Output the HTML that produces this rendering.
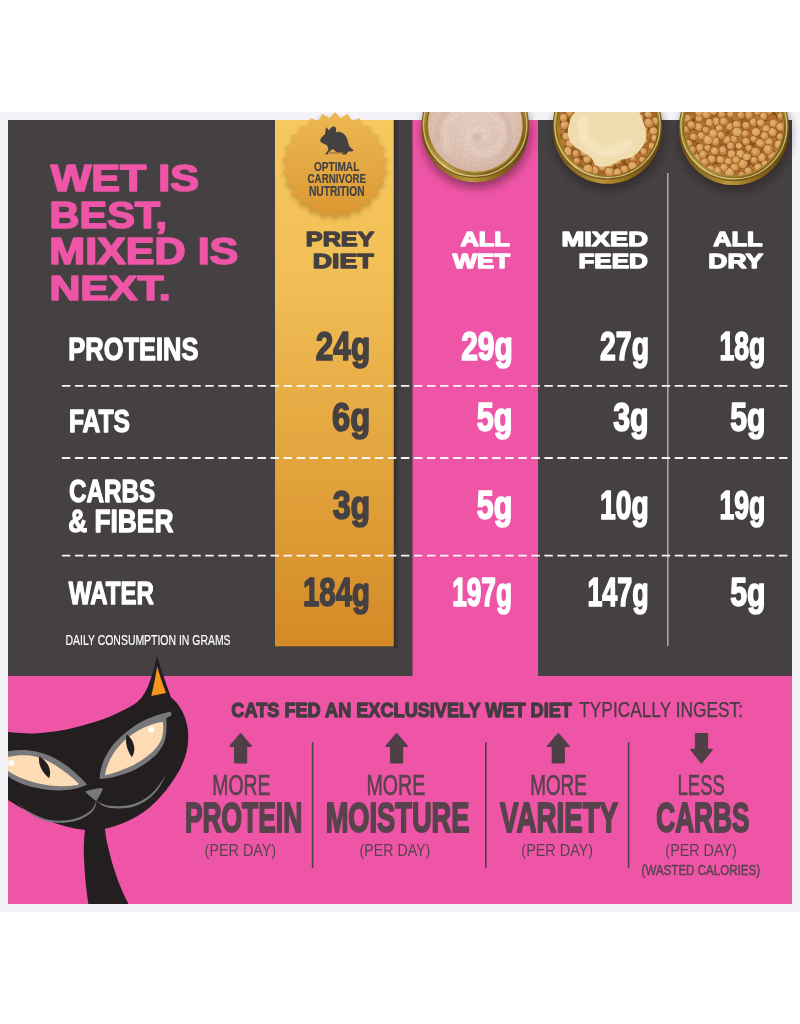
<!DOCTYPE html>
<html lang="en"><head><meta charset="utf-8"><title>Wet is best, mixed is next</title>
<style>
html,body{margin:0;padding:0;background:#fff;}
body{width:800px;height:1024px;overflow:hidden;font-family:"Liberation Sans",sans-serif;}
svg{display:block;position:absolute;left:0;top:0;}
svg text{font-family:"Liberation Sans",sans-serif;}
</style></head><body>
<svg width="800" height="1024" viewBox="0 0 800 1024">
<defs>
<linearGradient id="gcol" x1="0" y1="0" x2="0" y2="1">
<stop offset="0" stop-color="#f6c95f"/><stop offset="0.3" stop-color="#f1bf56"/><stop offset="0.55" stop-color="#e7ab44"/><stop offset="0.8" stop-color="#dc9934"/><stop offset="1" stop-color="#d38a27"/>
</linearGradient>
<linearGradient id="gsh" x1="0" y1="0" x2="1" y2="0"><stop offset="0" stop-color="#000" stop-opacity="0.3"/><stop offset="1" stop-color="#000" stop-opacity="0"/></linearGradient>
<linearGradient id="gbadge" x1="0" y1="0" x2="0" y2="1">
<stop offset="0" stop-color="#ecb752"/><stop offset="0.5" stop-color="#e4a843"/><stop offset="1" stop-color="#d9962f"/>
</linearGradient>
<linearGradient id="grim" x1="0" y1="0" x2="1" y2="1">
<stop offset="0" stop-color="#d2bb72"/><stop offset="0.3" stop-color="#94731f"/><stop offset="0.55" stop-color="#c0a250"/><stop offset="0.8" stop-color="#7e5e16"/><stop offset="1" stop-color="#a98a38"/>
</linearGradient>
<radialGradient id="gpate" cx="0.5" cy="0.45" r="0.6">
<stop offset="0" stop-color="#e6cdc0"/><stop offset="0.6" stop-color="#dec2b3"/><stop offset="1" stop-color="#cdaa99"/>
</radialGradient>
<filter id="sh" x="-30%" y="-30%" width="160%" height="160%"><feGaussianBlur stdDeviation="4"/></filter>
<filter id="sh2" x="-30%" y="-30%" width="160%" height="160%"><feGaussianBlur stdDeviation="2.5"/></filter>
<filter id="bl" x="-10%" y="-10%" width="120%" height="120%"><feGaussianBlur stdDeviation="0.6"/></filter>
<clipPath id="clipimg"><rect x="0" y="112" width="800" height="800"/></clipPath>
<clipPath id="c1"><circle cx="475.2" cy="124.5" r="47"/></clipPath>
<clipPath id="c2"><circle cx="607.6" cy="125.6" r="50.2"/></clipPath>
<clipPath id="c3"><circle cx="733.9" cy="126" r="49.2"/></clipPath>
<linearGradient id="gbody" x1="0" y1="0" x2="1" y2="0">
<stop offset="0" stop-color="#6e4f10"/><stop offset="0.45" stop-color="#b8943a"/><stop offset="0.7" stop-color="#8d6b1a"/><stop offset="1" stop-color="#5e420c"/>
</linearGradient>
<filter id="noise" x="0" y="0" width="100%" height="100%"><feTurbulence type="fractalNoise" baseFrequency="0.45" numOctaves="2" seed="4"/><feColorMatrix type="matrix" values="0 0 0 0 0.62  0 0 0 0 0.42  0 0 0 0 0.33  1.6 0 0 0 -0.62"/></filter>
<filter id="noise2" x="0" y="0" width="100%" height="100%"><feTurbulence type="fractalNoise" baseFrequency="0.5" numOctaves="2" seed="9"/><feColorMatrix type="matrix" values="0 0 0 0 0.98  0 0 0 0 0.93  0 0 0 0 0.88  0 1.6 0 0 -0.7"/></filter>
<filter id="bl2" x="-20%" y="-20%" width="140%" height="140%"><feGaussianBlur stdDeviation="1.6"/></filter>
</defs>

<rect x="0" y="0" width="800" height="1024" fill="#fff"/>
<rect x="0" y="112" width="800" height="800" fill="#f4f3f8"/>
<rect x="8" y="120" width="784" height="557" fill="#454142"/>
<rect x="8" y="676" width="784" height="228" fill="#ee55a7"/>
<rect x="412.5" y="120" width="125.5" height="560" fill="#ee55a7"/>
<rect x="393.7" y="120" width="6" height="528" fill="url(#gsh)"/>
<rect x="275" y="120" width="118.7" height="526.3" fill="url(#gcol)"/>
<rect x="667" y="173" width="1.6" height="473" fill="#a9a5a6"/>
<line x1="61.9" y1="385.8" x2="787.6" y2="385.8" stroke="#fff" stroke-width="1.8" stroke-dasharray="8.4 4.64" opacity="0.95"/>
<line x1="61.9" y1="458" x2="787.6" y2="458" stroke="#fff" stroke-width="1.8" stroke-dasharray="8.4 4.64" opacity="0.95"/>
<line x1="61.9" y1="555.6" x2="787.6" y2="555.6" stroke="#fff" stroke-width="1.8" stroke-dasharray="8.4 4.64" opacity="0.95"/>
<g clip-path="url(#clipimg)">
<polygon points="335.00,115.00 340.73,120.85 347.68,116.54 351.84,123.59 359.63,121.07 361.98,128.91 370.15,128.33 370.55,136.50 378.62,137.89 377.06,145.93 384.56,149.21 381.12,156.63 387.61,161.61 382.50,168.00 387.61,174.39 381.12,179.37 384.56,186.79 377.06,190.07 378.62,198.11 370.55,199.50 370.15,207.67 361.98,207.09 359.63,214.93 351.84,212.41 347.68,219.46 340.73,215.15 335.00,221.00 329.27,215.15 322.32,219.46 318.16,212.41 310.37,214.93 308.02,207.09 299.85,207.67 299.45,199.50 291.38,198.11 292.94,190.07 285.44,186.79 288.88,179.37 282.39,174.39 287.50,168.00 282.39,161.61 288.88,156.63 285.44,149.21 292.94,145.93 291.38,137.89 299.45,136.50 299.85,128.33 308.02,128.91 310.37,121.07 318.16,123.59 322.32,116.54 329.27,120.85" fill="#7a4a10" opacity="0.38" filter="url(#sh2)"/>
<polygon points="335.00,112.30 340.70,118.34 347.68,113.84 351.77,121.07 359.63,118.37 361.87,126.37 370.15,125.63 370.40,133.93 378.62,135.19 376.88,143.32 384.56,146.51 380.93,153.98 387.61,158.91 382.30,165.30 387.61,171.69 380.93,176.62 384.56,184.09 376.88,187.28 378.62,195.41 370.40,196.67 370.15,204.97 361.87,204.23 359.63,212.23 351.77,209.53 347.68,216.76 340.70,212.26 335.00,218.30 329.30,212.26 322.32,216.76 318.23,209.53 310.37,212.23 308.13,204.23 299.85,204.97 299.60,196.67 291.38,195.41 293.12,187.28 285.44,184.09 289.07,176.62 282.39,171.69 287.70,165.30 282.39,158.91 289.07,153.98 285.44,146.51 293.12,143.32 291.38,135.19 299.60,133.93 299.85,125.63 308.13,126.37 310.37,118.37 318.23,121.07 322.32,113.84 329.30,118.34" fill="url(#gbadge)"/>
<path fill="#454142" d="M320.1,140.3 C321,137.5 323.2,135.6 325,134.3 C325.6,131.5 325.6,129 326.1,127.3 C327.4,128 328.4,129.4 329.2,130.6 C329.8,128.6 331,127.2 332.6,126.7 C334.3,126.2 335.8,127 336.1,128.6 C336.3,130 336,131.2 335.7,132.3 C337.4,131.6 339.2,131.5 341,132.2 C343.6,133.2 345.6,135.2 346.8,138 C347.8,140.6 348.3,143 348.9,145 C349.6,147.2 351.6,148.6 353.5,150 L352.7,151.2 C351.3,151.4 349.8,151.3 348.3,151.5 C347.6,152.6 346.8,153.6 346,154.6 L342.2,154.6 C342.6,153.8 343,153.2 343.4,152.5 C340.8,152.5 338.2,152.3 335.9,151.8 C334.8,150.8 333.7,149.8 332.5,149 C331.2,150.2 330,151.2 328.8,152.3 L328.1,154.2 L325,154.2 C326,152.7 327.4,151.4 328.4,150 C328.2,148.5 327.6,147 327.3,145.5 C325.3,144.6 323.2,143.7 321.3,142.5 C320.7,141.8 320.2,141.1 320.1,140.3 Z"/>
<path d="M329.6,153 L343.4,152.9" stroke="#454142" stroke-width="0.7" fill="none"/>
<text x="313.89" y="170.70" font-size="13.66" font-weight="bold" fill="#454142" textLength="45.42" lengthAdjust="spacingAndGlyphs" stroke="#454142" stroke-width="0.2" stroke-linejoin="round">OPTIMAL</text>
<text x="307.58" y="183.30" font-size="13.66" font-weight="bold" fill="#454142" textLength="58.52" lengthAdjust="spacingAndGlyphs" stroke="#454142" stroke-width="0.2" stroke-linejoin="round">CARNIVORE</text>
<text x="308.94" y="195.90" font-size="13.81" font-weight="bold" fill="#454142" textLength="55.57" lengthAdjust="spacingAndGlyphs" stroke="#454142" stroke-width="0.2" stroke-linejoin="round">NUTRITION</text>
<ellipse cx="476.2" cy="133.5" rx="54.6" ry="54.6" fill="#1a0a10" opacity="0.42" filter="url(#sh)"/>
<circle cx="475.2" cy="128.7" r="53.6" fill="url(#gbody)"/>
<circle cx="475.2" cy="124.5" r="53.6" fill="#6e4e12"/>
<circle cx="475.2" cy="124.5" r="52.9" fill="url(#grim)"/>
<circle cx="475.2" cy="124.5" r="51.6" fill="none" stroke="#eadba2" stroke-width="1.1" opacity="0.75"/>
<circle cx="475.2" cy="124.5" r="48.6" fill="#7a5a16"/>
<circle cx="475.2" cy="125.1" r="47.9" fill="#b39440"/>
<g clip-path="url(#c1)"><circle cx="475.2" cy="124.5" r="51" fill="url(#gpate)"/><path d="M448,150 C436,128 452,106 478,108 C502,110 512,138 494,150 C478,160 462,146 470,134 C476,126 488,130 486,138" fill="none" stroke="#e8d6cb" stroke-width="8" stroke-linecap="round" opacity="0.42" filter="url(#bl2)"/><path d="M440,142 C432,122 448,100 478,100 C508,102 520,140 500,158" fill="none" stroke="#c9a796" stroke-width="4" opacity="0.55" filter="url(#bl2)"/><circle cx="477" cy="137" r="4" fill="#c9a796" opacity="0.6" filter="url(#bl2)"/><rect x="420" y="104" width="112" height="76" filter="url(#noise)" opacity="0.55"/><rect x="420" y="104" width="112" height="76" filter="url(#noise2)" opacity="0.4"/></g>
<ellipse cx="608.4" cy="134" rx="55.6" ry="55.6" fill="#1a0a10" opacity="0.42" filter="url(#sh)"/>
<circle cx="607.4" cy="129.2" r="54.6" fill="url(#gbody)"/>
<circle cx="607.4" cy="125" r="54.6" fill="#6e4e12"/>
<circle cx="607.4" cy="125" r="53.9" fill="url(#grim)"/>
<circle cx="607.4" cy="125" r="52.6" fill="none" stroke="#eadba2" stroke-width="1.1" opacity="0.75"/>
<circle cx="607.4" cy="125" r="50.9" fill="#7a5a16"/>
<circle cx="607.4" cy="125.6" r="50.199999999999996" fill="#b39440"/>
<g clip-path="url(#c2)"><circle cx="607.4" cy="125" r="51" fill="#a07c26"/></g><g clip-path="url(#c2)">
<circle cx="608.6" cy="126.4" r="48.8" fill="#86501e"/>
<ellipse cx="600.3" cy="143.0" rx="4.7" ry="4.3" transform="rotate(141 600.3 143.0)" fill="#a7672a"/>
<ellipse cx="640.0" cy="141.8" rx="3.9" ry="4.3" transform="rotate(9 640.0 141.8)" fill="#b06f2f"/>
<ellipse cx="639.2" cy="133.7" rx="3.7" ry="3.4" transform="rotate(113 639.2 133.7)" fill="#a7672a"/>
<ellipse cx="616.4" cy="111.5" rx="4.2" ry="4.4" transform="rotate(130 616.4 111.5)" fill="#a7672a"/>
<ellipse cx="582.0" cy="112.4" rx="5.0" ry="4.4" transform="rotate(93 582.0 112.4)" fill="#a7672a"/>
<ellipse cx="651.0" cy="139.2" rx="4.4" ry="4.4" transform="rotate(168 651.0 139.2)" fill="#a7672a"/>
<ellipse cx="618.7" cy="139.3" rx="3.7" ry="4.3" transform="rotate(119 618.7 139.3)" fill="#b97837"/>
<ellipse cx="575.3" cy="107.7" rx="3.8" ry="3.5" transform="rotate(36 575.3 107.7)" fill="#a7672a"/>
<ellipse cx="597.2" cy="122.9" rx="3.9" ry="3.6" transform="rotate(37 597.2 122.9)" fill="#b06f2f"/>
<ellipse cx="619.4" cy="164.3" rx="4.0" ry="3.7" transform="rotate(7 619.4 164.3)" fill="#a7672a"/>
<ellipse cx="594.3" cy="160.0" rx="3.8" ry="4.1" transform="rotate(99 594.3 160.0)" fill="#a7672a"/>
<ellipse cx="595.5" cy="166.9" rx="4.6" ry="4.5" transform="rotate(130 595.5 166.9)" fill="#b97837"/>
<ellipse cx="609.9" cy="162.6" rx="3.6" ry="3.7" transform="rotate(116 609.9 162.6)" fill="#b97837"/>
<ellipse cx="631.4" cy="147.3" rx="4.2" ry="4.0" transform="rotate(61 631.4 147.3)" fill="#b06f2f"/>
<ellipse cx="627.9" cy="153.7" rx="3.7" ry="4.2" transform="rotate(44 627.9 153.7)" fill="#b06f2f"/>
<ellipse cx="568.5" cy="106.6" rx="4.4" ry="3.8" transform="rotate(65 568.5 106.6)" fill="#b97837"/>
<ellipse cx="570.2" cy="132.7" rx="3.4" ry="4.1" transform="rotate(26 570.2 132.7)" fill="#a7672a"/>
<ellipse cx="651.9" cy="124.5" rx="3.6" ry="4.1" transform="rotate(46 651.9 124.5)" fill="#b97837"/>
<ellipse cx="579.2" cy="152.1" rx="4.0" ry="4.0" transform="rotate(83 579.2 152.1)" fill="#b06f2f"/>
<ellipse cx="589.6" cy="131.1" rx="3.4" ry="4.2" transform="rotate(132 589.6 131.1)" fill="#a7672a"/>
<ellipse cx="625.0" cy="143.7" rx="4.4" ry="3.8" transform="rotate(159 625.0 143.7)" fill="#b06f2f"/>
<ellipse cx="575.0" cy="137.5" rx="4.8" ry="4.3" transform="rotate(37 575.0 137.5)" fill="#a7672a"/>
<ellipse cx="603.1" cy="156.7" rx="4.4" ry="4.3" transform="rotate(65 603.1 156.7)" fill="#a7672a"/>
<ellipse cx="611.2" cy="149.3" rx="3.6" ry="4.0" transform="rotate(117 611.2 149.3)" fill="#b06f2f"/>
<ellipse cx="639.5" cy="127.2" rx="4.0" ry="3.9" transform="rotate(54 639.5 127.2)" fill="#b97837"/>
<ellipse cx="596.2" cy="135.5" rx="4.7" ry="4.1" transform="rotate(111 596.2 135.5)" fill="#a7672a"/>
<ellipse cx="620.1" cy="131.1" rx="3.6" ry="4.1" transform="rotate(42 620.1 131.1)" fill="#b06f2f"/>
<ellipse cx="609.3" cy="126.6" rx="4.0" ry="3.6" transform="rotate(63 609.3 126.6)" fill="#a7672a"/>
<ellipse cx="594.7" cy="114.3" rx="4.2" ry="3.8" transform="rotate(129 594.7 114.3)" fill="#b06f2f"/>
<ellipse cx="592.0" cy="150.0" rx="3.8" ry="4.1" transform="rotate(152 592.0 150.0)" fill="#b97837"/>
<ellipse cx="654.7" cy="133.1" rx="3.7" ry="3.7" transform="rotate(111 654.7 133.1)" fill="#b97837"/>
<ellipse cx="580.3" cy="123.2" rx="4.0" ry="3.7" transform="rotate(108 580.3 123.2)" fill="#b06f2f"/>
<ellipse cx="633.5" cy="130.8" rx="3.7" ry="4.0" transform="rotate(75 633.5 130.8)" fill="#b97837"/>
<ellipse cx="564.9" cy="141.5" rx="4.4" ry="4.1" transform="rotate(162 564.9 141.5)" fill="#b97837"/>
<ellipse cx="636.3" cy="118.3" rx="4.2" ry="3.9" transform="rotate(97 636.3 118.3)" fill="#b97837"/>
<ellipse cx="584.6" cy="144.8" rx="4.2" ry="4.9" transform="rotate(128 584.6 144.8)" fill="#b06f2f"/>
<ellipse cx="605.5" cy="106.9" rx="4.2" ry="3.4" transform="rotate(13 605.5 106.9)" fill="#b06f2f"/>
<ellipse cx="635.1" cy="163.4" rx="4.6" ry="4.4" transform="rotate(144 635.1 163.4)" fill="#b97837"/>
<ellipse cx="587.7" cy="155.0" rx="4.2" ry="3.8" transform="rotate(61 587.7 155.0)" fill="#b06f2f"/>
<ellipse cx="602.3" cy="149.0" rx="4.2" ry="4.2" transform="rotate(122 602.3 149.0)" fill="#b97837"/>
<ellipse cx="568.4" cy="148.3" rx="3.7" ry="4.5" transform="rotate(35 568.4 148.3)" fill="#b06f2f"/>
<ellipse cx="574.7" cy="119.5" rx="3.6" ry="3.6" transform="rotate(39 574.7 119.5)" fill="#a7672a"/>
<ellipse cx="635.7" cy="109.8" rx="4.6" ry="3.8" transform="rotate(170 635.7 109.8)" fill="#a7672a"/>
<ellipse cx="645.9" cy="112.0" rx="4.2" ry="4.3" transform="rotate(60 645.9 112.0)" fill="#b06f2f"/>
<ellipse cx="629.7" cy="136.7" rx="3.7" ry="3.5" transform="rotate(47 629.7 136.7)" fill="#b06f2f"/>
<ellipse cx="623.6" cy="115.1" rx="4.1" ry="3.8" transform="rotate(65 623.6 115.1)" fill="#b97837"/>
<ellipse cx="617.5" cy="172.2" rx="4.1" ry="4.2" transform="rotate(57 617.5 172.2)" fill="#a7672a"/>
<ellipse cx="561.2" cy="130.2" rx="4.4" ry="3.9" transform="rotate(173 561.2 130.2)" fill="#b97837"/>
<ellipse cx="617.6" cy="151.8" rx="3.9" ry="4.1" transform="rotate(69 617.6 151.8)" fill="#b97837"/>
<ellipse cx="602.6" cy="128.7" rx="4.3" ry="3.9" transform="rotate(69 602.6 128.7)" fill="#b97837"/>
<ellipse cx="650.2" cy="146.7" rx="3.8" ry="4.1" transform="rotate(104 650.2 146.7)" fill="#b97837"/>
<ellipse cx="630.8" cy="115.4" rx="3.9" ry="3.6" transform="rotate(115 630.8 115.4)" fill="#a7672a"/>
<ellipse cx="584.6" cy="162.8" rx="4.7" ry="4.0" transform="rotate(13 584.6 162.8)" fill="#b06f2f"/>
<ellipse cx="654.4" cy="115.2" rx="4.4" ry="3.8" transform="rotate(98 654.4 115.2)" fill="#a7672a"/>
<ellipse cx="610.2" cy="173.3" rx="3.9" ry="4.3" transform="rotate(104 610.2 173.3)" fill="#b97837"/>
<ellipse cx="607.3" cy="140.7" rx="3.8" ry="4.3" transform="rotate(136 607.3 140.7)" fill="#b06f2f"/>
<ellipse cx="627.0" cy="124.6" rx="4.5" ry="3.8" transform="rotate(47 627.0 124.6)" fill="#b06f2f"/>
<ellipse cx="602.4" cy="118.6" rx="4.8" ry="3.9" transform="rotate(56 602.4 118.6)" fill="#a7672a"/>
<ellipse cx="564.9" cy="125.2" rx="4.3" ry="4.8" transform="rotate(54 564.9 125.2)" fill="#b06f2f"/>
<ellipse cx="604.6" cy="167.0" rx="3.8" ry="4.3" transform="rotate(156 604.6 167.0)" fill="#b06f2f"/>
<ellipse cx="583.6" cy="134.4" rx="3.7" ry="4.1" transform="rotate(152 583.6 134.4)" fill="#b06f2f"/>
<ellipse cx="642.1" cy="157.9" rx="3.9" ry="4.7" transform="rotate(44 642.1 157.9)" fill="#b06f2f"/>
<ellipse cx="587.8" cy="125.0" rx="4.0" ry="3.8" transform="rotate(22 587.8 125.0)" fill="#a7672a"/>
<ellipse cx="570.0" cy="114.1" rx="3.7" ry="3.8" transform="rotate(50 570.0 114.1)" fill="#b06f2f"/>
<ellipse cx="613.5" cy="121.3" rx="4.1" ry="3.4" transform="rotate(47 613.5 121.3)" fill="#b06f2f"/>
<ellipse cx="573.9" cy="145.3" rx="3.4" ry="4.1" transform="rotate(129 573.9 145.3)" fill="#a7672a"/>
<ellipse cx="618.4" cy="105.6" rx="3.4" ry="3.7" transform="rotate(56 618.4 105.6)" fill="#b06f2f"/>
<ellipse cx="591.3" cy="140.1" rx="4.8" ry="4.0" transform="rotate(53 591.3 140.1)" fill="#b06f2f"/>
<ellipse cx="626.8" cy="168.9" rx="4.1" ry="4.2" transform="rotate(72 626.8 168.9)" fill="#a7672a"/>
<ellipse cx="646.8" cy="134.2" rx="4.3" ry="4.1" transform="rotate(140 646.8 134.2)" fill="#b97837"/>
<ellipse cx="576.7" cy="159.3" rx="3.8" ry="3.4" transform="rotate(83 576.7 159.3)" fill="#a7672a"/>
<ellipse cx="602.1" cy="172.7" rx="3.8" ry="4.5" transform="rotate(174 602.1 172.7)" fill="#a7672a"/>
<ellipse cx="641.5" cy="107.3" rx="4.5" ry="3.9" transform="rotate(49 641.5 107.3)" fill="#b97837"/>
<ellipse cx="637.7" cy="149.2" rx="4.2" ry="4.0" transform="rotate(132 637.7 149.2)" fill="#a7672a"/>
<ellipse cx="629.2" cy="160.5" rx="3.8" ry="3.6" transform="rotate(17 629.2 160.5)" fill="#b97837"/>
<ellipse cx="587.7" cy="106.2" rx="4.5" ry="4.6" transform="rotate(78 587.7 106.2)" fill="#a7672a"/>
<ellipse cx="608.2" cy="115.9" rx="4.5" ry="4.0" transform="rotate(144 608.2 115.9)" fill="#b06f2f"/>
<ellipse cx="645.0" cy="122.7" rx="4.4" ry="4.7" transform="rotate(169 645.0 122.7)" fill="#a7672a"/>
<ellipse cx="628.6" cy="107.7" rx="3.5" ry="4.0" transform="rotate(162 628.6 107.7)" fill="#b06f2f"/>
<ellipse cx="613.7" cy="132.7" rx="4.2" ry="3.4" transform="rotate(44 613.7 132.7)" fill="#b06f2f"/>
<ellipse cx="622.0" cy="157.2" rx="4.2" ry="4.1" transform="rotate(42 622.0 157.2)" fill="#a7672a"/>
<ellipse cx="573.0" cy="154.1" rx="4.0" ry="4.1" transform="rotate(79 573.0 154.1)" fill="#a7672a"/>
<ellipse cx="595.3" cy="106.6" rx="4.0" ry="4.2" transform="rotate(40 595.3 106.6)" fill="#b06f2f"/>
<ellipse cx="573.5" cy="126.8" rx="4.9" ry="4.8" transform="rotate(66 573.5 126.8)" fill="#b97837"/>
<ellipse cx="586.1" cy="117.2" rx="4.4" ry="3.5" transform="rotate(105 586.1 117.2)" fill="#b06f2f"/>
<ellipse cx="652.4" cy="108.3" rx="4.2" ry="3.9" transform="rotate(36 652.4 108.3)" fill="#a7672a"/>
<ellipse cx="646.4" cy="152.8" rx="4.3" ry="4.0" transform="rotate(161 646.4 152.8)" fill="#b97837"/>
<ellipse cx="619.9" cy="124.9" rx="4.7" ry="4.8" transform="rotate(91 619.9 124.9)" fill="#b97837"/>
<ellipse cx="562.2" cy="115.0" rx="3.9" ry="3.9" transform="rotate(93 562.2 115.0)" fill="#b06f2f"/>
<ellipse cx="589.0" cy="169.4" rx="4.8" ry="4.1" transform="rotate(150 589.0 169.4)" fill="#b06f2f"/>
<ellipse cx="616.3" cy="145.3" rx="4.5" ry="4.2" transform="rotate(67 616.3 145.3)" fill="#a7672a"/>
<ellipse cx="635.9" cy="155.9" rx="4.4" ry="3.6" transform="rotate(142 635.9 155.9)" fill="#b97837"/>
<ellipse cx="601.6" cy="111.8" rx="4.0" ry="4.3" transform="rotate(87 601.6 111.8)" fill="#b06f2f"/>
<ellipse cx="614.1" cy="157.7" rx="4.1" ry="4.7" transform="rotate(49 614.1 157.7)" fill="#b06f2f"/>
<ellipse cx="597.5" cy="153.2" rx="4.0" ry="4.9" transform="rotate(70 597.5 153.2)" fill="#a7672a"/>
<ellipse cx="579.2" cy="129.9" rx="3.9" ry="4.6" transform="rotate(42 579.2 129.9)" fill="#b06f2f"/>
<ellipse cx="603.0" cy="135.0" rx="4.6" ry="4.7" transform="rotate(100 603.0 135.0)" fill="#a7672a"/>
<ellipse cx="611.9" cy="106.1" rx="4.5" ry="4.8" transform="rotate(128 611.9 106.1)" fill="#b97837"/>
<ellipse cx="633.5" cy="124.3" rx="3.5" ry="4.0" transform="rotate(148 633.5 124.3)" fill="#b06f2f"/>
<ellipse cx="596.4" cy="129.2" rx="4.2" ry="4.1" transform="rotate(37 596.4 129.2)" fill="#a7672a"/>
<ellipse cx="633.8" cy="141.4" rx="3.7" ry="4.3" transform="rotate(163 633.8 141.4)" fill="#a7672a"/>
<ellipse cx="626.4" cy="131.3" rx="4.2" ry="3.7" transform="rotate(175 626.4 131.3)" fill="#a7672a"/>
<ellipse cx="581.3" cy="105.5" rx="4.2" ry="4.0" transform="rotate(114 581.3 105.5)" fill="#a7672a"/>
<ellipse cx="600.1" cy="162.5" rx="4.0" ry="3.9" transform="rotate(15 600.1 162.5)" fill="#b06f2f"/>
<ellipse cx="643.9" cy="146.7" rx="4.0" ry="4.3" transform="rotate(130 643.9 146.7)" fill="#b06f2f"/>
<ellipse cx="621.6" cy="138.9" rx="5.0" ry="4.9" transform="rotate(163 621.6 138.9)" fill="#d9a15c" stroke="#7a4414" stroke-width="0.9" stroke-opacity="0.55"/>
<circle cx="620.9" cy="138.1" r="2.7" fill="#e0b070" opacity="0.8"/>
<ellipse cx="589.3" cy="109.5" rx="4.7" ry="4.9" transform="rotate(9 589.3 109.5)" fill="#c78746" stroke="#7a4414" stroke-width="0.9" stroke-opacity="0.55"/>
<circle cx="588.6" cy="108.7" r="2.6" fill="#e0b070" opacity="0.8"/>
<ellipse cx="593.9" cy="124.7" rx="4.5" ry="4.4" transform="rotate(12 593.9 124.7)" fill="#cd904b" stroke="#7a4414" stroke-width="0.9" stroke-opacity="0.55"/>
<circle cx="593.2" cy="123.9" r="2.4" fill="#e0b070" opacity="0.8"/>
<ellipse cx="616.8" cy="160.4" rx="5.1" ry="4.1" transform="rotate(157 616.8 160.4)" fill="#d9a15c" stroke="#7a4414" stroke-width="0.9" stroke-opacity="0.55"/>
<circle cx="616.1" cy="159.6" r="2.8" fill="#e0b070" opacity="0.8"/>
<ellipse cx="620.1" cy="131.7" rx="4.9" ry="4.8" transform="rotate(147 620.1 131.7)" fill="#d0954f" stroke="#7a4414" stroke-width="0.9" stroke-opacity="0.55"/>
<circle cx="619.4" cy="130.9" r="2.7" fill="#e0b070" opacity="0.8"/>
<ellipse cx="642.5" cy="160.0" rx="3.6" ry="4.0" transform="rotate(122 642.5 160.0)" fill="#c48341" stroke="#7a4414" stroke-width="0.9" stroke-opacity="0.55"/>
<circle cx="641.8" cy="159.2" r="2.4" fill="#e0b070" opacity="0.8"/>
<ellipse cx="653.3" cy="131.0" rx="4.1" ry="4.2" transform="rotate(178 653.3 131.0)" fill="#d9a15c" stroke="#7a4414" stroke-width="0.9" stroke-opacity="0.55"/>
<circle cx="652.6" cy="130.2" r="2.5" fill="#e0b070" opacity="0.8"/>
<ellipse cx="566.1" cy="136.3" rx="4.2" ry="4.1" transform="rotate(43 566.1 136.3)" fill="#d0954f" stroke="#7a4414" stroke-width="0.9" stroke-opacity="0.55"/>
<circle cx="565.4" cy="135.5" r="2.7" fill="#e0b070" opacity="0.8"/>
<ellipse cx="643.1" cy="128.8" rx="4.8" ry="4.6" transform="rotate(28 643.1 128.8)" fill="#d9a15c" stroke="#7a4414" stroke-width="0.9" stroke-opacity="0.55"/>
<circle cx="642.4" cy="128.0" r="2.6" fill="#e0b070" opacity="0.8"/>
<ellipse cx="606.4" cy="157.0" rx="4.4" ry="4.2" transform="rotate(21 606.4 157.0)" fill="#d0954f" stroke="#7a4414" stroke-width="0.9" stroke-opacity="0.55"/>
<circle cx="605.7" cy="156.2" r="2.7" fill="#e0b070" opacity="0.8"/>
<ellipse cx="606.7" cy="123.4" rx="4.3" ry="4.7" transform="rotate(105 606.7 123.4)" fill="#d0954f" stroke="#7a4414" stroke-width="0.9" stroke-opacity="0.55"/>
<circle cx="606.0" cy="122.6" r="2.6" fill="#e0b070" opacity="0.8"/>
<ellipse cx="573.8" cy="118.7" rx="4.5" ry="4.4" transform="rotate(166 573.8 118.7)" fill="#d0954f" stroke="#7a4414" stroke-width="0.9" stroke-opacity="0.55"/>
<circle cx="573.1" cy="117.9" r="2.5" fill="#e0b070" opacity="0.8"/>
<ellipse cx="629.5" cy="121.4" rx="4.6" ry="4.6" transform="rotate(121 629.5 121.4)" fill="#c78746" stroke="#7a4414" stroke-width="0.9" stroke-opacity="0.55"/>
<circle cx="628.8" cy="120.6" r="2.7" fill="#e0b070" opacity="0.8"/>
<ellipse cx="623.9" cy="112.7" rx="5.3" ry="4.6" transform="rotate(77 623.9 112.7)" fill="#c48341" stroke="#7a4414" stroke-width="0.9" stroke-opacity="0.55"/>
<circle cx="623.2" cy="111.9" r="2.8" fill="#e0b070" opacity="0.8"/>
<ellipse cx="632.9" cy="138.2" rx="4.0" ry="4.5" transform="rotate(74 632.9 138.2)" fill="#d0954f" stroke="#7a4414" stroke-width="0.9" stroke-opacity="0.55"/>
<circle cx="632.2" cy="137.4" r="2.4" fill="#e0b070" opacity="0.8"/>
<ellipse cx="651.3" cy="107.2" rx="4.3" ry="4.2" transform="rotate(52 651.3 107.2)" fill="#d0954f" stroke="#7a4414" stroke-width="0.9" stroke-opacity="0.55"/>
<circle cx="650.6" cy="106.4" r="2.4" fill="#e0b070" opacity="0.8"/>
<ellipse cx="597.0" cy="159.0" rx="4.1" ry="4.5" transform="rotate(99 597.0 159.0)" fill="#c78746" stroke="#7a4414" stroke-width="0.9" stroke-opacity="0.55"/>
<circle cx="596.3" cy="158.2" r="2.6" fill="#e0b070" opacity="0.8"/>
<ellipse cx="624.4" cy="169.2" rx="3.9" ry="4.1" transform="rotate(67 624.4 169.2)" fill="#d49a54" stroke="#7a4414" stroke-width="0.9" stroke-opacity="0.55"/>
<circle cx="623.7" cy="168.4" r="2.4" fill="#e0b070" opacity="0.8"/>
<ellipse cx="569.7" cy="143.7" rx="3.9" ry="4.6" transform="rotate(13 569.7 143.7)" fill="#d49a54" stroke="#7a4414" stroke-width="0.9" stroke-opacity="0.55"/>
<circle cx="569.0" cy="142.9" r="2.6" fill="#e0b070" opacity="0.8"/>
<ellipse cx="611.4" cy="150.1" rx="3.9" ry="4.4" transform="rotate(99 611.4 150.1)" fill="#cd904b" stroke="#7a4414" stroke-width="0.9" stroke-opacity="0.55"/>
<circle cx="610.7" cy="149.3" r="2.4" fill="#e0b070" opacity="0.8"/>
<ellipse cx="565.5" cy="106.1" rx="3.9" ry="4.3" transform="rotate(144 565.5 106.1)" fill="#d49a54" stroke="#7a4414" stroke-width="0.9" stroke-opacity="0.55"/>
<circle cx="564.8" cy="105.3" r="2.3" fill="#e0b070" opacity="0.8"/>
<ellipse cx="640.4" cy="117.7" rx="3.9" ry="4.4" transform="rotate(16 640.4 117.7)" fill="#c48341" stroke="#7a4414" stroke-width="0.9" stroke-opacity="0.55"/>
<circle cx="639.7" cy="116.9" r="2.6" fill="#e0b070" opacity="0.8"/>
<ellipse cx="604.8" cy="140.7" rx="4.8" ry="4.1" transform="rotate(152 604.8 140.7)" fill="#d0954f" stroke="#7a4414" stroke-width="0.9" stroke-opacity="0.55"/>
<circle cx="604.1" cy="139.9" r="2.6" fill="#e0b070" opacity="0.8"/>
<ellipse cx="564.5" cy="124.9" rx="4.1" ry="4.7" transform="rotate(27 564.5 124.9)" fill="#cd904b" stroke="#7a4414" stroke-width="0.9" stroke-opacity="0.55"/>
<circle cx="563.8" cy="124.1" r="2.7" fill="#e0b070" opacity="0.8"/>
<ellipse cx="590.3" cy="147.4" rx="4.4" ry="3.9" transform="rotate(170 590.3 147.4)" fill="#d9a15c" stroke="#7a4414" stroke-width="0.9" stroke-opacity="0.55"/>
<circle cx="589.6" cy="146.6" r="2.5" fill="#e0b070" opacity="0.8"/>
<ellipse cx="632.8" cy="158.3" rx="4.0" ry="4.1" transform="rotate(65 632.8 158.3)" fill="#c48341" stroke="#7a4414" stroke-width="0.9" stroke-opacity="0.55"/>
<circle cx="632.1" cy="157.5" r="2.4" fill="#e0b070" opacity="0.8"/>
<ellipse cx="583.9" cy="134.6" rx="4.9" ry="4.2" transform="rotate(112 583.9 134.6)" fill="#c78746" stroke="#7a4414" stroke-width="0.9" stroke-opacity="0.55"/>
<circle cx="583.2" cy="133.8" r="2.8" fill="#e0b070" opacity="0.8"/>
<ellipse cx="577.1" cy="109.5" rx="4.0" ry="4.5" transform="rotate(56 577.1 109.5)" fill="#c78746" stroke="#7a4414" stroke-width="0.9" stroke-opacity="0.55"/>
<circle cx="576.4" cy="108.7" r="2.7" fill="#e0b070" opacity="0.8"/>
<ellipse cx="602.3" cy="167.4" rx="3.8" ry="4.6" transform="rotate(94 602.3 167.4)" fill="#d0954f" stroke="#7a4414" stroke-width="0.9" stroke-opacity="0.55"/>
<circle cx="601.6" cy="166.6" r="2.5" fill="#e0b070" opacity="0.8"/>
<ellipse cx="631.2" cy="113.3" rx="4.5" ry="4.8" transform="rotate(27 631.2 113.3)" fill="#d49a54" stroke="#7a4414" stroke-width="0.9" stroke-opacity="0.55"/>
<circle cx="630.5" cy="112.5" r="2.7" fill="#e0b070" opacity="0.8"/>
<ellipse cx="624.6" cy="145.7" rx="4.5" ry="3.7" transform="rotate(36 624.6 145.7)" fill="#d49a54" stroke="#7a4414" stroke-width="0.9" stroke-opacity="0.55"/>
<circle cx="623.9" cy="144.9" r="2.4" fill="#e0b070" opacity="0.8"/>
<ellipse cx="576.9" cy="160.9" rx="3.7" ry="3.9" transform="rotate(20 576.9 160.9)" fill="#c78746" stroke="#7a4414" stroke-width="0.9" stroke-opacity="0.55"/>
<circle cx="576.2" cy="160.1" r="2.4" fill="#e0b070" opacity="0.8"/>
<ellipse cx="648.3" cy="114.6" rx="4.4" ry="3.8" transform="rotate(41 648.3 114.6)" fill="#d0954f" stroke="#7a4414" stroke-width="0.9" stroke-opacity="0.55"/>
<circle cx="647.6" cy="113.8" r="2.4" fill="#e0b070" opacity="0.8"/>
<ellipse cx="628.6" cy="106.1" rx="5.3" ry="5.2" transform="rotate(161 628.6 106.1)" fill="#d9a15c" stroke="#7a4414" stroke-width="0.9" stroke-opacity="0.55"/>
<circle cx="627.9" cy="105.3" r="2.8" fill="#e0b070" opacity="0.8"/>
<ellipse cx="644.5" cy="140.9" rx="3.5" ry="3.8" transform="rotate(56 644.5 140.9)" fill="#cd904b" stroke="#7a4414" stroke-width="0.9" stroke-opacity="0.55"/>
<circle cx="643.8" cy="140.1" r="2.3" fill="#e0b070" opacity="0.8"/>
<ellipse cx="634.7" cy="148.6" rx="5.1" ry="4.9" transform="rotate(144 634.7 148.6)" fill="#d0954f" stroke="#7a4414" stroke-width="0.9" stroke-opacity="0.55"/>
<circle cx="634.0" cy="147.8" r="2.8" fill="#e0b070" opacity="0.8"/>
<ellipse cx="619.5" cy="106.1" rx="4.8" ry="4.6" transform="rotate(168 619.5 106.1)" fill="#cd904b" stroke="#7a4414" stroke-width="0.9" stroke-opacity="0.55"/>
<circle cx="618.8" cy="105.3" r="2.7" fill="#e0b070" opacity="0.8"/>
<ellipse cx="591.8" cy="116.9" rx="4.4" ry="3.7" transform="rotate(47 591.8 116.9)" fill="#d9a15c" stroke="#7a4414" stroke-width="0.9" stroke-opacity="0.55"/>
<circle cx="591.1" cy="116.1" r="2.5" fill="#e0b070" opacity="0.8"/>
<ellipse cx="581.8" cy="117.5" rx="3.6" ry="3.6" transform="rotate(54 581.8 117.5)" fill="#d9a15c" stroke="#7a4414" stroke-width="0.9" stroke-opacity="0.55"/>
<circle cx="581.1" cy="116.7" r="2.4" fill="#e0b070" opacity="0.8"/>
<ellipse cx="652.0" cy="146.3" rx="4.6" ry="4.0" transform="rotate(84 652.0 146.3)" fill="#c48341" stroke="#7a4414" stroke-width="0.9" stroke-opacity="0.55"/>
<circle cx="651.3" cy="145.5" r="2.6" fill="#e0b070" opacity="0.8"/>
<ellipse cx="597.4" cy="105.0" rx="4.8" ry="4.9" transform="rotate(20 597.4 105.0)" fill="#c78746" stroke="#7a4414" stroke-width="0.9" stroke-opacity="0.55"/>
<circle cx="596.7" cy="104.2" r="2.6" fill="#e0b070" opacity="0.8"/>
<ellipse cx="569.8" cy="112.6" rx="4.2" ry="4.6" transform="rotate(161 569.8 112.6)" fill="#c78746" stroke="#7a4414" stroke-width="0.9" stroke-opacity="0.55"/>
<circle cx="569.1" cy="111.8" r="2.6" fill="#e0b070" opacity="0.8"/>
<ellipse cx="634.9" cy="130.0" rx="4.4" ry="4.2" transform="rotate(160 634.9 130.0)" fill="#cd904b" stroke="#7a4414" stroke-width="0.9" stroke-opacity="0.55"/>
<circle cx="634.2" cy="129.2" r="2.8" fill="#e0b070" opacity="0.8"/>
<ellipse cx="601.6" cy="151.2" rx="4.0" ry="3.9" transform="rotate(51 601.6 151.2)" fill="#d9a15c" stroke="#7a4414" stroke-width="0.9" stroke-opacity="0.55"/>
<circle cx="600.9" cy="150.4" r="2.4" fill="#e0b070" opacity="0.8"/>
<ellipse cx="593.7" cy="135.5" rx="4.9" ry="4.3" transform="rotate(14 593.7 135.5)" fill="#d9a15c" stroke="#7a4414" stroke-width="0.9" stroke-opacity="0.55"/>
<circle cx="593.0" cy="134.7" r="2.7" fill="#e0b070" opacity="0.8"/>
<ellipse cx="576.0" cy="153.6" rx="4.3" ry="3.8" transform="rotate(93 576.0 153.6)" fill="#c48341" stroke="#7a4414" stroke-width="0.9" stroke-opacity="0.55"/>
<circle cx="575.3" cy="152.8" r="2.5" fill="#e0b070" opacity="0.8"/>
<ellipse cx="594.9" cy="170.2" rx="3.9" ry="4.5" transform="rotate(150 594.9 170.2)" fill="#d0954f" stroke="#7a4414" stroke-width="0.9" stroke-opacity="0.55"/>
<circle cx="594.2" cy="169.4" r="2.5" fill="#e0b070" opacity="0.8"/>
<ellipse cx="643.8" cy="151.6" rx="4.2" ry="3.8" transform="rotate(85 643.8 151.6)" fill="#c48341" stroke="#7a4414" stroke-width="0.9" stroke-opacity="0.55"/>
<circle cx="643.1" cy="150.8" r="2.5" fill="#e0b070" opacity="0.8"/>
<ellipse cx="614.0" cy="116.1" rx="5.1" ry="4.8" transform="rotate(164 614.0 116.1)" fill="#c78746" stroke="#7a4414" stroke-width="0.9" stroke-opacity="0.55"/>
<circle cx="613.3" cy="115.3" r="2.7" fill="#e0b070" opacity="0.8"/>
<ellipse cx="611.8" cy="109.1" rx="4.7" ry="4.8" transform="rotate(149 611.8 109.1)" fill="#cd904b" stroke="#7a4414" stroke-width="0.9" stroke-opacity="0.55"/>
<circle cx="611.1" cy="108.3" r="2.8" fill="#e0b070" opacity="0.8"/>
<ellipse cx="609.5" cy="171.7" rx="4.9" ry="5.3" transform="rotate(146 609.5 171.7)" fill="#d0954f" stroke="#7a4414" stroke-width="0.9" stroke-opacity="0.55"/>
<circle cx="608.8" cy="170.9" r="2.8" fill="#e0b070" opacity="0.8"/>
<ellipse cx="639.4" cy="108.7" rx="5.2" ry="5.2" transform="rotate(61 639.4 108.7)" fill="#d49a54" stroke="#7a4414" stroke-width="0.9" stroke-opacity="0.55"/>
<circle cx="638.7" cy="107.9" r="2.8" fill="#e0b070" opacity="0.8"/>
<ellipse cx="587.0" cy="159.1" rx="4.0" ry="3.9" transform="rotate(157 587.0 159.1)" fill="#d9a15c" stroke="#7a4414" stroke-width="0.9" stroke-opacity="0.55"/>
<circle cx="586.3" cy="158.3" r="2.4" fill="#e0b070" opacity="0.8"/>
<ellipse cx="626.2" cy="155.2" rx="4.9" ry="5.2" transform="rotate(108 626.2 155.2)" fill="#c48341" stroke="#7a4414" stroke-width="0.9" stroke-opacity="0.55"/>
<circle cx="625.5" cy="154.4" r="2.8" fill="#e0b070" opacity="0.8"/>
<ellipse cx="618.4" cy="122.6" rx="4.1" ry="4.3" transform="rotate(134 618.4 122.6)" fill="#d49a54" stroke="#7a4414" stroke-width="0.9" stroke-opacity="0.55"/>
<circle cx="617.7" cy="121.8" r="2.3" fill="#e0b070" opacity="0.8"/>
<ellipse cx="604.8" cy="111.3" rx="3.8" ry="4.1" transform="rotate(144 604.8 111.3)" fill="#c48341" stroke="#7a4414" stroke-width="0.9" stroke-opacity="0.55"/>
<circle cx="604.1" cy="110.5" r="2.5" fill="#e0b070" opacity="0.8"/>
<ellipse cx="584.4" cy="143.1" rx="4.9" ry="5.2" transform="rotate(52 584.4 143.1)" fill="#d9a15c" stroke="#7a4414" stroke-width="0.9" stroke-opacity="0.55"/>
<circle cx="583.7" cy="142.3" r="2.8" fill="#e0b070" opacity="0.8"/>
<ellipse cx="574.3" cy="129.2" rx="4.3" ry="4.2" transform="rotate(146 574.3 129.2)" fill="#d49a54" stroke="#7a4414" stroke-width="0.9" stroke-opacity="0.55"/>
<circle cx="573.6" cy="128.4" r="2.7" fill="#e0b070" opacity="0.8"/>
<ellipse cx="587.8" cy="169.2" rx="5.2" ry="5.1" transform="rotate(107 587.8 169.2)" fill="#d49a54" stroke="#7a4414" stroke-width="0.9" stroke-opacity="0.55"/>
<circle cx="587.1" cy="168.4" r="2.8" fill="#e0b070" opacity="0.8"/>
<ellipse cx="567.9" cy="151.2" rx="4.7" ry="4.0" transform="rotate(80 567.9 151.2)" fill="#d9a15c" stroke="#7a4414" stroke-width="0.9" stroke-opacity="0.55"/>
<circle cx="567.2" cy="150.4" r="2.5" fill="#e0b070" opacity="0.8"/>
<ellipse cx="582.4" cy="125.0" rx="4.7" ry="5.0" transform="rotate(70 582.4 125.0)" fill="#c48341" stroke="#7a4414" stroke-width="0.9" stroke-opacity="0.55"/>
<circle cx="581.7" cy="124.2" r="2.8" fill="#e0b070" opacity="0.8"/>
<ellipse cx="619.3" cy="152.8" rx="4.9" ry="4.0" transform="rotate(177 619.3 152.8)" fill="#c78746" stroke="#7a4414" stroke-width="0.9" stroke-opacity="0.55"/>
<circle cx="618.6" cy="152.0" r="2.7" fill="#e0b070" opacity="0.8"/>
<ellipse cx="577.5" cy="140.8" rx="4.5" ry="4.4" transform="rotate(32 577.5 140.8)" fill="#d9a15c" stroke="#7a4414" stroke-width="0.9" stroke-opacity="0.55"/>
<circle cx="576.8" cy="140.0" r="2.6" fill="#e0b070" opacity="0.8"/>
<ellipse cx="603.3" cy="131.3" rx="3.7" ry="4.1" transform="rotate(145 603.3 131.3)" fill="#d49a54" stroke="#7a4414" stroke-width="0.9" stroke-opacity="0.55"/>
<circle cx="602.6" cy="130.5" r="2.4" fill="#e0b070" opacity="0.8"/>
<ellipse cx="655.7" cy="121.0" rx="4.5" ry="4.8" transform="rotate(87 655.7 121.0)" fill="#c48341" stroke="#7a4414" stroke-width="0.9" stroke-opacity="0.55"/>
<circle cx="655.0" cy="120.2" r="2.7" fill="#e0b070" opacity="0.8"/>
<ellipse cx="648.6" cy="122.7" rx="5.0" ry="4.7" transform="rotate(65 648.6 122.7)" fill="#cd904b" stroke="#7a4414" stroke-width="0.9" stroke-opacity="0.55"/>
<circle cx="647.9" cy="121.9" r="2.6" fill="#e0b070" opacity="0.8"/>
<ellipse cx="627.6" cy="131.0" rx="4.3" ry="4.5" transform="rotate(49 627.6 131.0)" fill="#c78746" stroke="#7a4414" stroke-width="0.9" stroke-opacity="0.55"/>
<circle cx="626.9" cy="130.2" r="2.6" fill="#e0b070" opacity="0.8"/>
<ellipse cx="597.0" cy="144.4" rx="4.2" ry="4.7" transform="rotate(135 597.0 144.4)" fill="#d9a15c" stroke="#7a4414" stroke-width="0.9" stroke-opacity="0.55"/>
<circle cx="596.3" cy="143.6" r="2.7" fill="#e0b070" opacity="0.8"/>
<ellipse cx="612.3" cy="128.7" rx="3.6" ry="3.9" transform="rotate(144 612.3 128.7)" fill="#d0954f" stroke="#7a4414" stroke-width="0.9" stroke-opacity="0.55"/>
<circle cx="611.6" cy="127.9" r="2.4" fill="#e0b070" opacity="0.8"/>
<ellipse cx="615.6" cy="144.0" rx="4.5" ry="4.3" transform="rotate(151 615.6 144.0)" fill="#c78746" stroke="#7a4414" stroke-width="0.9" stroke-opacity="0.55"/>
<circle cx="614.9" cy="143.2" r="2.6" fill="#e0b070" opacity="0.8"/>
<ellipse cx="617.4" cy="172.5" rx="4.6" ry="4.3" transform="rotate(133 617.4 172.5)" fill="#d0954f" stroke="#7a4414" stroke-width="0.9" stroke-opacity="0.55"/>
<circle cx="616.7" cy="171.7" r="2.5" fill="#e0b070" opacity="0.8"/>
<ellipse cx="632.4" cy="165.9" rx="4.6" ry="4.3" transform="rotate(36 632.4 165.9)" fill="#d9a15c" stroke="#7a4414" stroke-width="0.9" stroke-opacity="0.55"/>
<circle cx="631.7" cy="165.1" r="2.7" fill="#e0b070" opacity="0.8"/>
<ellipse cx="610.8" cy="136.7" rx="4.0" ry="4.1" transform="rotate(133 610.8 136.7)" fill="#cd904b" stroke="#7a4414" stroke-width="0.9" stroke-opacity="0.55"/>
<circle cx="610.1" cy="135.9" r="2.3" fill="#e0b070" opacity="0.8"/>
<ellipse cx="563.5" cy="117.5" rx="4.4" ry="4.0" transform="rotate(112 563.5 117.5)" fill="#d49a54" stroke="#7a4414" stroke-width="0.9" stroke-opacity="0.55"/>
<circle cx="562.8" cy="116.7" r="2.4" fill="#e0b070" opacity="0.8"/>
<ellipse cx="583.5" cy="105.3" rx="4.2" ry="4.0" transform="rotate(42 583.5 105.3)" fill="#c48341" stroke="#7a4414" stroke-width="0.9" stroke-opacity="0.55"/>
<circle cx="582.8" cy="104.5" r="2.3" fill="#e0b070" opacity="0.8"/>
<ellipse cx="599.4" cy="118.0" rx="4.4" ry="4.2" transform="rotate(27 599.4 118.0)" fill="#d9a15c" stroke="#7a4414" stroke-width="0.9" stroke-opacity="0.55"/>
<circle cx="598.7" cy="117.2" r="2.3" fill="#e0b070" opacity="0.8"/>
<ellipse cx="654.6" cy="138.3" rx="3.6" ry="4.0" transform="rotate(18 654.6 138.3)" fill="#c78746" stroke="#7a4414" stroke-width="0.9" stroke-opacity="0.55"/>
<circle cx="653.9" cy="137.5" r="2.4" fill="#e0b070" opacity="0.8"/>
<ellipse cx="584.4" cy="152.2" rx="4.7" ry="4.3" transform="rotate(13 584.4 152.2)" fill="#d49a54" stroke="#7a4414" stroke-width="0.9" stroke-opacity="0.55"/>
<circle cx="583.7" cy="151.4" r="2.6" fill="#e0b070" opacity="0.8"/>
<ellipse cx="610.4" cy="163.7" rx="3.8" ry="4.2" transform="rotate(156 610.4 163.7)" fill="#cd904b" stroke="#7a4414" stroke-width="0.9" stroke-opacity="0.55"/>
<circle cx="609.7" cy="162.9" r="2.5" fill="#e0b070" opacity="0.8"/>
<ellipse cx="639.7" cy="135.4" rx="4.6" ry="4.8" transform="rotate(152 639.7 135.4)" fill="#d49a54" stroke="#7a4414" stroke-width="0.9" stroke-opacity="0.55"/>
<circle cx="639.0" cy="134.6" r="2.7" fill="#e0b070" opacity="0.8"/>
</g><g clip-path="url(#c2)"><path d="M577,110 C572,115 570,119 569.5,123 C568,127 567.5,131 568,135 C568.6,139 570.5,142.6 573.2,145.5 C576.5,148.6 581,150.6 584.5,153 C587.4,154.8 590,156.6 592,159 C593.4,161 594,163.4 595,165 C599.5,167.6 605.5,167 610,165.7 C613.6,164.4 616,162 619,160.5 C623,158.8 627.6,159 631,157.5 C634.6,155.6 637.6,153 640,150 C643,146.4 645.2,142.4 646,138 C646.6,134 646,130 644.5,126 C643.2,121 641,116 638.5,110 Z" fill="#f1dcb0"/><path d="M584,120 C580,130 584,142 594,148 C604,154 618,152 628,144" fill="none" stroke="#f8ebca" stroke-width="9" stroke-linecap="round" opacity="0.6" filter="url(#bl2)"/></g>
<ellipse cx="734.9" cy="135" rx="55.9" ry="55.9" fill="#1a0a10" opacity="0.42" filter="url(#sh)"/>
<circle cx="733.9" cy="130.2" r="54.9" fill="url(#gbody)"/>
<circle cx="733.9" cy="126" r="54.9" fill="#6e4e12"/>
<circle cx="733.9" cy="126" r="54.199999999999996" fill="url(#grim)"/>
<circle cx="733.9" cy="126" r="52.9" fill="none" stroke="#eadba2" stroke-width="1.1" opacity="0.75"/>
<circle cx="733.9" cy="126" r="50.800000000000004" fill="#7a5a16"/>
<circle cx="733.9" cy="126.6" r="50.1" fill="#b39440"/>
<g clip-path="url(#c3)">
<circle cx="733.9" cy="126" r="51" fill="#86501e"/>
<ellipse cx="711.1" cy="140.3" rx="3.4" ry="3.8" transform="rotate(27 711.1 140.3)" fill="#b97837"/>
<ellipse cx="697.3" cy="150.4" rx="4.3" ry="4.1" transform="rotate(10 697.3 150.4)" fill="#b06f2f"/>
<ellipse cx="739.0" cy="138.1" rx="4.2" ry="4.3" transform="rotate(145 739.0 138.1)" fill="#b97837"/>
<ellipse cx="703.2" cy="116.8" rx="4.8" ry="4.6" transform="rotate(94 703.2 116.8)" fill="#a7672a"/>
<ellipse cx="754.0" cy="160.9" rx="3.8" ry="4.3" transform="rotate(60 754.0 160.9)" fill="#b06f2f"/>
<ellipse cx="762.4" cy="128.4" rx="4.2" ry="4.4" transform="rotate(5 762.4 128.4)" fill="#b97837"/>
<ellipse cx="710.8" cy="151.5" rx="4.2" ry="3.9" transform="rotate(157 710.8 151.5)" fill="#b97837"/>
<ellipse cx="746.3" cy="142.0" rx="4.2" ry="4.0" transform="rotate(180 746.3 142.0)" fill="#b06f2f"/>
<ellipse cx="772.1" cy="118.6" rx="4.2" ry="4.2" transform="rotate(30 772.1 118.6)" fill="#b06f2f"/>
<ellipse cx="743.7" cy="127.6" rx="3.9" ry="4.4" transform="rotate(30 743.7 127.6)" fill="#a7672a"/>
<ellipse cx="774.8" cy="126.7" rx="4.4" ry="4.6" transform="rotate(157 774.8 126.7)" fill="#b06f2f"/>
<ellipse cx="765.7" cy="116.2" rx="4.1" ry="3.8" transform="rotate(52 765.7 116.2)" fill="#a7672a"/>
<ellipse cx="725.4" cy="148.3" rx="3.7" ry="3.8" transform="rotate(122 725.4 148.3)" fill="#a7672a"/>
<ellipse cx="723.7" cy="156.5" rx="4.0" ry="4.1" transform="rotate(3 723.7 156.5)" fill="#a7672a"/>
<ellipse cx="729.0" cy="138.2" rx="4.3" ry="4.6" transform="rotate(4 729.0 138.2)" fill="#b06f2f"/>
<ellipse cx="713.7" cy="116.7" rx="4.4" ry="4.2" transform="rotate(154 713.7 116.7)" fill="#a7672a"/>
<ellipse cx="761.2" cy="111.6" rx="4.2" ry="4.5" transform="rotate(24 761.2 111.6)" fill="#b97837"/>
<ellipse cx="764.7" cy="140.6" rx="4.2" ry="3.9" transform="rotate(82 764.7 140.6)" fill="#b97837"/>
<ellipse cx="738.8" cy="174.0" rx="3.9" ry="4.5" transform="rotate(174 738.8 174.0)" fill="#b06f2f"/>
<ellipse cx="731.9" cy="153.1" rx="3.9" ry="4.2" transform="rotate(141 731.9 153.1)" fill="#b06f2f"/>
<ellipse cx="733.0" cy="130.7" rx="3.6" ry="4.1" transform="rotate(41 733.0 130.7)" fill="#b06f2f"/>
<ellipse cx="723.7" cy="172.3" rx="4.4" ry="4.4" transform="rotate(12 723.7 172.3)" fill="#b97837"/>
<ellipse cx="762.1" cy="161.6" rx="4.1" ry="4.7" transform="rotate(51 762.1 161.6)" fill="#a7672a"/>
<ellipse cx="722.4" cy="134.0" rx="4.2" ry="3.7" transform="rotate(82 722.4 134.0)" fill="#b97837"/>
<ellipse cx="733.9" cy="143.8" rx="4.2" ry="4.8" transform="rotate(24 733.9 143.8)" fill="#b97837"/>
<ellipse cx="717.7" cy="159.1" rx="3.8" ry="3.7" transform="rotate(32 717.7 159.1)" fill="#b06f2f"/>
<ellipse cx="752.9" cy="153.7" rx="4.4" ry="4.2" transform="rotate(179 752.9 153.7)" fill="#b06f2f"/>
<ellipse cx="708.4" cy="112.8" rx="4.6" ry="4.1" transform="rotate(38 708.4 112.8)" fill="#a7672a"/>
<ellipse cx="780.7" cy="120.1" rx="3.8" ry="4.5" transform="rotate(121 780.7 120.1)" fill="#b97837"/>
<ellipse cx="738.4" cy="154.0" rx="4.6" ry="3.8" transform="rotate(81 738.4 154.0)" fill="#b97837"/>
<ellipse cx="744.4" cy="170.8" rx="4.3" ry="4.3" transform="rotate(124 744.4 170.8)" fill="#b97837"/>
<ellipse cx="700.1" cy="138.8" rx="4.0" ry="5.0" transform="rotate(57 700.1 138.8)" fill="#b06f2f"/>
<ellipse cx="686.2" cy="130.4" rx="4.0" ry="3.9" transform="rotate(133 686.2 130.4)" fill="#a7672a"/>
<ellipse cx="753.2" cy="123.6" rx="4.1" ry="4.3" transform="rotate(3 753.2 123.6)" fill="#b97837"/>
<ellipse cx="765.0" cy="134.4" rx="3.4" ry="3.9" transform="rotate(67 765.0 134.4)" fill="#a7672a"/>
<ellipse cx="727.6" cy="120.6" rx="4.1" ry="4.3" transform="rotate(123 727.6 120.6)" fill="#b06f2f"/>
<ellipse cx="727.9" cy="110.5" rx="4.1" ry="4.6" transform="rotate(179 727.9 110.5)" fill="#b06f2f"/>
<ellipse cx="709.7" cy="167.0" rx="3.6" ry="3.8" transform="rotate(138 709.7 167.0)" fill="#a7672a"/>
<ellipse cx="729.0" cy="160.0" rx="4.6" ry="4.5" transform="rotate(24 729.0 160.0)" fill="#b97837"/>
<ellipse cx="779.2" cy="111.9" rx="4.0" ry="3.7" transform="rotate(160 779.2 111.9)" fill="#b97837"/>
<ellipse cx="704.1" cy="126.4" rx="4.6" ry="3.9" transform="rotate(65 704.1 126.4)" fill="#b97837"/>
<ellipse cx="700.5" cy="159.6" rx="4.2" ry="4.0" transform="rotate(2 700.5 159.6)" fill="#a7672a"/>
<ellipse cx="720.3" cy="121.4" rx="4.0" ry="4.1" transform="rotate(86 720.3 121.4)" fill="#b97837"/>
<ellipse cx="736.7" cy="161.4" rx="3.8" ry="3.6" transform="rotate(8 736.7 161.4)" fill="#a7672a"/>
<ellipse cx="690.4" cy="125.6" rx="4.2" ry="4.2" transform="rotate(66 690.4 125.6)" fill="#b97837"/>
<ellipse cx="746.8" cy="106.2" rx="3.7" ry="4.5" transform="rotate(78 746.8 106.2)" fill="#b97837"/>
<ellipse cx="686.0" cy="118.3" rx="3.8" ry="4.7" transform="rotate(41 686.0 118.3)" fill="#b06f2f"/>
<ellipse cx="757.7" cy="147.5" rx="4.5" ry="4.0" transform="rotate(28 757.7 147.5)" fill="#a7672a"/>
<ellipse cx="775.2" cy="148.6" rx="4.4" ry="3.8" transform="rotate(80 775.2 148.6)" fill="#b97837"/>
<ellipse cx="758.9" cy="156.1" rx="4.0" ry="4.8" transform="rotate(118 758.9 156.1)" fill="#a7672a"/>
<ellipse cx="691.6" cy="115.3" rx="3.7" ry="4.0" transform="rotate(69 691.6 115.3)" fill="#b06f2f"/>
<ellipse cx="751.3" cy="169.1" rx="3.5" ry="4.0" transform="rotate(136 751.3 169.1)" fill="#b97837"/>
<ellipse cx="770.7" cy="108.1" rx="3.5" ry="3.8" transform="rotate(157 770.7 108.1)" fill="#b06f2f"/>
<ellipse cx="753.7" cy="114.7" rx="4.0" ry="4.5" transform="rotate(76 753.7 114.7)" fill="#b97837"/>
<ellipse cx="782.4" cy="130.4" rx="4.1" ry="4.1" transform="rotate(1 782.4 130.4)" fill="#b06f2f"/>
<ellipse cx="716.1" cy="168.7" rx="4.5" ry="4.6" transform="rotate(77 716.1 168.7)" fill="#b97837"/>
<ellipse cx="710.3" cy="125.4" rx="4.4" ry="4.6" transform="rotate(62 710.3 125.4)" fill="#b97837"/>
<ellipse cx="722.3" cy="141.0" rx="3.8" ry="3.5" transform="rotate(54 722.3 141.0)" fill="#a7672a"/>
<ellipse cx="686.9" cy="109.6" rx="4.1" ry="4.1" transform="rotate(177 686.9 109.6)" fill="#a7672a"/>
<ellipse cx="771.5" cy="135.0" rx="3.8" ry="4.4" transform="rotate(83 771.5 135.0)" fill="#b06f2f"/>
<ellipse cx="693.3" cy="134.4" rx="4.6" ry="4.2" transform="rotate(22 693.3 134.4)" fill="#b97837"/>
<ellipse cx="730.7" cy="168.7" rx="3.7" ry="3.5" transform="rotate(48 730.7 168.7)" fill="#b97837"/>
<ellipse cx="768.7" cy="147.2" rx="4.6" ry="4.5" transform="rotate(157 768.7 147.2)" fill="#a7672a"/>
<ellipse cx="752.7" cy="130.2" rx="3.7" ry="4.5" transform="rotate(113 752.7 130.2)" fill="#b06f2f"/>
<ellipse cx="694.6" cy="105.2" rx="4.3" ry="4.0" transform="rotate(24 694.6 105.2)" fill="#a7672a"/>
<ellipse cx="714.3" cy="110.1" rx="4.3" ry="3.8" transform="rotate(58 714.3 110.1)" fill="#b97837"/>
<ellipse cx="692.3" cy="145.9" rx="4.3" ry="4.4" transform="rotate(87 692.3 145.9)" fill="#a7672a"/>
<ellipse cx="781.9" cy="139.8" rx="4.1" ry="3.9" transform="rotate(118 781.9 139.8)" fill="#b97837"/>
<ellipse cx="715.5" cy="145.6" rx="4.7" ry="4.4" transform="rotate(94 715.5 145.6)" fill="#b06f2f"/>
<ellipse cx="753.3" cy="137.8" rx="4.7" ry="4.4" transform="rotate(104 753.3 137.8)" fill="#b97837"/>
<ellipse cx="737.2" cy="123.5" rx="4.6" ry="4.3" transform="rotate(160 737.2 123.5)" fill="#b97837"/>
<ellipse cx="698.9" cy="123.0" rx="4.2" ry="4.1" transform="rotate(163 698.9 123.0)" fill="#b97837"/>
<ellipse cx="746.4" cy="154.3" rx="4.1" ry="3.7" transform="rotate(3 746.4 154.3)" fill="#b97837"/>
<ellipse cx="721.1" cy="108.9" rx="4.0" ry="4.3" transform="rotate(75 721.1 108.9)" fill="#b06f2f"/>
<ellipse cx="737.2" cy="110.2" rx="4.2" ry="3.9" transform="rotate(116 737.2 110.2)" fill="#b97837"/>
<ellipse cx="755.8" cy="108.4" rx="3.8" ry="3.7" transform="rotate(27 755.8 108.4)" fill="#a7672a"/>
<ellipse cx="711.0" cy="160.2" rx="4.5" ry="3.9" transform="rotate(89 711.0 160.2)" fill="#b97837"/>
<ellipse cx="703.5" cy="145.2" rx="4.8" ry="3.9" transform="rotate(146 703.5 145.2)" fill="#b97837"/>
<ellipse cx="735.9" cy="117.2" rx="3.9" ry="4.6" transform="rotate(172 735.9 117.2)" fill="#b97837"/>
<ellipse cx="747.7" cy="148.2" rx="4.3" ry="3.9" transform="rotate(174 747.7 148.2)" fill="#a7672a"/>
<ellipse cx="772.7" cy="141.1" rx="4.5" ry="4.5" transform="rotate(41 772.7 141.1)" fill="#b06f2f"/>
<ellipse cx="745.6" cy="112.5" rx="3.8" ry="3.5" transform="rotate(152 745.6 112.5)" fill="#b97837"/>
<ellipse cx="715.9" cy="131.8" rx="4.0" ry="3.8" transform="rotate(93 715.9 131.8)" fill="#b06f2f"/>
<ellipse cx="701.6" cy="107.0" rx="4.2" ry="4.3" transform="rotate(2 701.6 107.0)" fill="#b06f2f"/>
<ellipse cx="722.7" cy="165.8" rx="4.0" ry="3.5" transform="rotate(159 722.7 165.8)" fill="#b97837"/>
<ellipse cx="746.4" cy="121.9" rx="4.3" ry="4.3" transform="rotate(139 746.4 121.9)" fill="#a7672a"/>
<ellipse cx="779.0" cy="105.7" rx="3.6" ry="3.9" transform="rotate(33 779.0 105.7)" fill="#b97837"/>
<ellipse cx="725.4" cy="127.9" rx="4.5" ry="4.1" transform="rotate(112 725.4 127.9)" fill="#b06f2f"/>
<ellipse cx="705.4" cy="134.7" rx="4.5" ry="4.1" transform="rotate(118 705.4 134.7)" fill="#b97837"/>
<ellipse cx="769.9" cy="157.7" rx="4.2" ry="3.9" transform="rotate(49 769.9 157.7)" fill="#a7672a"/>
<ellipse cx="686.1" cy="138.1" rx="4.2" ry="4.7" transform="rotate(29 686.1 138.1)" fill="#b06f2f"/>
<ellipse cx="758.5" cy="119.3" rx="4.4" ry="3.8" transform="rotate(74 758.5 119.3)" fill="#b97837"/>
<ellipse cx="743.2" cy="163.6" rx="4.3" ry="4.5" transform="rotate(30 743.2 163.6)" fill="#a7672a"/>
<ellipse cx="740.5" cy="147.1" rx="3.9" ry="4.3" transform="rotate(119 740.5 147.1)" fill="#a7672a"/>
<ellipse cx="758.6" cy="167.0" rx="4.3" ry="4.4" transform="rotate(47 758.6 167.0)" fill="#b97837"/>
<ellipse cx="694.1" cy="155.9" rx="4.5" ry="3.9" transform="rotate(88 694.1 155.9)" fill="#b06f2f"/>
<ellipse cx="733.3" cy="105.0" rx="3.7" ry="4.0" transform="rotate(83 733.3 105.0)" fill="#b06f2f"/>
<ellipse cx="765.7" cy="152.8" rx="4.7" ry="3.8" transform="rotate(140 765.7 152.8)" fill="#b97837"/>
<ellipse cx="708.0" cy="105.6" rx="4.4" ry="3.8" transform="rotate(92 708.0 105.6)" fill="#b97837"/>
<ellipse cx="768.8" cy="124.8" rx="4.6" ry="3.9" transform="rotate(7 768.8 124.8)" fill="#b97837"/>
<ellipse cx="699.4" cy="130.9" rx="4.9" ry="4.1" transform="rotate(106 699.4 130.9)" fill="#b06f2f"/>
<ellipse cx="697.1" cy="112.0" rx="4.6" ry="4.3" transform="rotate(49 697.1 112.0)" fill="#a7672a"/>
<ellipse cx="719.7" cy="151.2" rx="3.7" ry="4.3" transform="rotate(46 719.7 151.2)" fill="#b06f2f"/>
<ellipse cx="746.5" cy="133.7" rx="4.2" ry="3.6" transform="rotate(151 746.5 133.7)" fill="#b06f2f"/>
<ellipse cx="723.4" cy="115.3" rx="3.8" ry="3.5" transform="rotate(47 723.4 115.3)" fill="#b97837"/>
<ellipse cx="758.8" cy="134.9" rx="4.6" ry="4.1" transform="rotate(103 758.8 134.9)" fill="#a7672a"/>
<ellipse cx="704.5" cy="151.5" rx="4.5" ry="4.2" transform="rotate(63 704.5 151.5)" fill="#b97837"/>
<ellipse cx="763.7" cy="105.6" rx="4.1" ry="4.2" transform="rotate(61 763.7 105.6)" fill="#b06f2f"/>
<ellipse cx="684.1" cy="124.3" rx="3.9" ry="4.0" transform="rotate(6 684.1 124.3)" fill="#a7672a"/>
<ellipse cx="731.7" cy="175.0" rx="4.0" ry="4.5" transform="rotate(60 731.7 175.0)" fill="#b06f2f"/>
<ellipse cx="703.6" cy="165.2" rx="3.7" ry="4.0" transform="rotate(145 703.6 165.2)" fill="#a7672a"/>
<ellipse cx="737.0" cy="167.8" rx="3.9" ry="3.8" transform="rotate(148 737.0 167.8)" fill="#a7672a"/>
<ellipse cx="715.4" cy="141.2" rx="4.3" ry="4.7" transform="rotate(9 715.4 141.2)" fill="#d0954f" stroke="#7a4414" stroke-width="0.9" stroke-opacity="0.55"/>
<circle cx="714.7" cy="140.4" r="2.6" fill="#e0b070" opacity="0.8"/>
<ellipse cx="730.6" cy="114.1" rx="4.2" ry="3.9" transform="rotate(78 730.6 114.1)" fill="#c78746" stroke="#7a4414" stroke-width="0.9" stroke-opacity="0.55"/>
<circle cx="729.9" cy="113.3" r="2.5" fill="#e0b070" opacity="0.8"/>
<ellipse cx="761.5" cy="157.3" rx="4.4" ry="4.2" transform="rotate(69 761.5 157.3)" fill="#d9a15c" stroke="#7a4414" stroke-width="0.9" stroke-opacity="0.55"/>
<circle cx="760.8" cy="156.5" r="2.4" fill="#e0b070" opacity="0.8"/>
<ellipse cx="769.0" cy="142.1" rx="4.5" ry="4.5" transform="rotate(2 769.0 142.1)" fill="#cd904b" stroke="#7a4414" stroke-width="0.9" stroke-opacity="0.55"/>
<circle cx="768.3" cy="141.3" r="2.7" fill="#e0b070" opacity="0.8"/>
<ellipse cx="734.2" cy="139.3" rx="4.0" ry="5.0" transform="rotate(3 734.2 139.3)" fill="#c48341" stroke="#7a4414" stroke-width="0.9" stroke-opacity="0.55"/>
<circle cx="733.5" cy="138.5" r="2.7" fill="#e0b070" opacity="0.8"/>
<ellipse cx="726.9" cy="139.8" rx="4.2" ry="4.3" transform="rotate(177 726.9 139.8)" fill="#d49a54" stroke="#7a4414" stroke-width="0.9" stroke-opacity="0.55"/>
<circle cx="726.2" cy="139.0" r="2.4" fill="#e0b070" opacity="0.8"/>
<ellipse cx="781.0" cy="116.0" rx="4.2" ry="4.1" transform="rotate(62 781.0 116.0)" fill="#c48341" stroke="#7a4414" stroke-width="0.9" stroke-opacity="0.55"/>
<circle cx="780.3" cy="115.2" r="2.4" fill="#e0b070" opacity="0.8"/>
<ellipse cx="719.3" cy="128.3" rx="5.0" ry="4.1" transform="rotate(105 719.3 128.3)" fill="#cd904b" stroke="#7a4414" stroke-width="0.9" stroke-opacity="0.55"/>
<circle cx="718.6" cy="127.5" r="2.7" fill="#e0b070" opacity="0.8"/>
<ellipse cx="707.7" cy="148.0" rx="4.2" ry="3.9" transform="rotate(47 707.7 148.0)" fill="#c48341" stroke="#7a4414" stroke-width="0.9" stroke-opacity="0.55"/>
<circle cx="707.0" cy="147.2" r="2.5" fill="#e0b070" opacity="0.8"/>
<ellipse cx="711.5" cy="158.8" rx="4.0" ry="4.2" transform="rotate(142 711.5 158.8)" fill="#d9a15c" stroke="#7a4414" stroke-width="0.9" stroke-opacity="0.55"/>
<circle cx="710.8" cy="158.0" r="2.3" fill="#e0b070" opacity="0.8"/>
<ellipse cx="754.0" cy="139.2" rx="4.2" ry="3.7" transform="rotate(31 754.0 139.2)" fill="#c48341" stroke="#7a4414" stroke-width="0.9" stroke-opacity="0.55"/>
<circle cx="753.3" cy="138.4" r="2.4" fill="#e0b070" opacity="0.8"/>
<ellipse cx="706.1" cy="113.9" rx="4.8" ry="4.9" transform="rotate(144 706.1 113.9)" fill="#d49a54" stroke="#7a4414" stroke-width="0.9" stroke-opacity="0.55"/>
<circle cx="705.4" cy="113.1" r="2.6" fill="#e0b070" opacity="0.8"/>
<ellipse cx="769.2" cy="111.1" rx="4.3" ry="4.0" transform="rotate(118 769.2 111.1)" fill="#c78746" stroke="#7a4414" stroke-width="0.9" stroke-opacity="0.55"/>
<circle cx="768.5" cy="110.3" r="2.6" fill="#e0b070" opacity="0.8"/>
<ellipse cx="760.4" cy="143.1" rx="4.4" ry="5.2" transform="rotate(108 760.4 143.1)" fill="#cd904b" stroke="#7a4414" stroke-width="0.9" stroke-opacity="0.55"/>
<circle cx="759.7" cy="142.3" r="2.8" fill="#e0b070" opacity="0.8"/>
<ellipse cx="755.9" cy="132.0" rx="4.5" ry="4.4" transform="rotate(0 755.9 132.0)" fill="#d9a15c" stroke="#7a4414" stroke-width="0.9" stroke-opacity="0.55"/>
<circle cx="755.2" cy="131.2" r="2.7" fill="#e0b070" opacity="0.8"/>
<ellipse cx="748.2" cy="171.0" rx="4.1" ry="4.1" transform="rotate(166 748.2 171.0)" fill="#c78746" stroke="#7a4414" stroke-width="0.9" stroke-opacity="0.55"/>
<circle cx="747.5" cy="170.2" r="2.8" fill="#e0b070" opacity="0.8"/>
<ellipse cx="749.0" cy="148.2" rx="3.8" ry="4.2" transform="rotate(99 749.0 148.2)" fill="#c48341" stroke="#7a4414" stroke-width="0.9" stroke-opacity="0.55"/>
<circle cx="748.3" cy="147.4" r="2.5" fill="#e0b070" opacity="0.8"/>
<ellipse cx="716.3" cy="121.2" rx="4.3" ry="4.4" transform="rotate(103 716.3 121.2)" fill="#d49a54" stroke="#7a4414" stroke-width="0.9" stroke-opacity="0.55"/>
<circle cx="715.6" cy="120.4" r="2.5" fill="#e0b070" opacity="0.8"/>
<ellipse cx="731.4" cy="153.8" rx="4.3" ry="4.4" transform="rotate(163 731.4 153.8)" fill="#d9a15c" stroke="#7a4414" stroke-width="0.9" stroke-opacity="0.55"/>
<circle cx="730.7" cy="153.0" r="2.3" fill="#e0b070" opacity="0.8"/>
<ellipse cx="757.6" cy="111.4" rx="4.2" ry="4.4" transform="rotate(109 757.6 111.4)" fill="#d0954f" stroke="#7a4414" stroke-width="0.9" stroke-opacity="0.55"/>
<circle cx="756.9" cy="110.6" r="2.5" fill="#e0b070" opacity="0.8"/>
<ellipse cx="728.3" cy="161.4" rx="4.1" ry="3.7" transform="rotate(170 728.3 161.4)" fill="#d49a54" stroke="#7a4414" stroke-width="0.9" stroke-opacity="0.55"/>
<circle cx="727.6" cy="160.6" r="2.4" fill="#e0b070" opacity="0.8"/>
<ellipse cx="692.5" cy="108.0" rx="4.8" ry="4.1" transform="rotate(78 692.5 108.0)" fill="#cd904b" stroke="#7a4414" stroke-width="0.9" stroke-opacity="0.55"/>
<circle cx="691.8" cy="107.2" r="2.5" fill="#e0b070" opacity="0.8"/>
<ellipse cx="718.8" cy="105.7" rx="4.6" ry="4.3" transform="rotate(113 718.8 105.7)" fill="#d0954f" stroke="#7a4414" stroke-width="0.9" stroke-opacity="0.55"/>
<circle cx="718.1" cy="104.9" r="2.6" fill="#e0b070" opacity="0.8"/>
<ellipse cx="698.7" cy="126.9" rx="4.4" ry="4.4" transform="rotate(113 698.7 126.9)" fill="#cd904b" stroke="#7a4414" stroke-width="0.9" stroke-opacity="0.55"/>
<circle cx="698.0" cy="126.1" r="2.8" fill="#e0b070" opacity="0.8"/>
<ellipse cx="763.7" cy="106.3" rx="4.2" ry="4.3" transform="rotate(70 763.7 106.3)" fill="#d0954f" stroke="#7a4414" stroke-width="0.9" stroke-opacity="0.55"/>
<circle cx="763.0" cy="105.5" r="2.7" fill="#e0b070" opacity="0.8"/>
<ellipse cx="701.4" cy="135.7" rx="4.1" ry="4.6" transform="rotate(100 701.4 135.7)" fill="#d0954f" stroke="#7a4414" stroke-width="0.9" stroke-opacity="0.55"/>
<circle cx="700.7" cy="134.9" r="2.5" fill="#e0b070" opacity="0.8"/>
<ellipse cx="734.8" cy="167.1" rx="4.4" ry="4.9" transform="rotate(64 734.8 167.1)" fill="#cd904b" stroke="#7a4414" stroke-width="0.9" stroke-opacity="0.55"/>
<circle cx="734.1" cy="166.3" r="2.8" fill="#e0b070" opacity="0.8"/>
<ellipse cx="772.5" cy="131.9" rx="4.7" ry="4.3" transform="rotate(25 772.5 131.9)" fill="#d49a54" stroke="#7a4414" stroke-width="0.9" stroke-opacity="0.55"/>
<circle cx="771.8" cy="131.1" r="2.6" fill="#e0b070" opacity="0.8"/>
<ellipse cx="780.4" cy="137.1" rx="4.2" ry="4.2" transform="rotate(6 780.4 137.1)" fill="#c48341" stroke="#7a4414" stroke-width="0.9" stroke-opacity="0.55"/>
<circle cx="779.7" cy="136.3" r="2.7" fill="#e0b070" opacity="0.8"/>
<ellipse cx="706.1" cy="130.1" rx="4.0" ry="4.6" transform="rotate(124 706.1 130.1)" fill="#c48341" stroke="#7a4414" stroke-width="0.9" stroke-opacity="0.55"/>
<circle cx="705.4" cy="129.3" r="2.4" fill="#e0b070" opacity="0.8"/>
<ellipse cx="693.7" cy="136.9" rx="4.4" ry="3.9" transform="rotate(7 693.7 136.9)" fill="#c78746" stroke="#7a4414" stroke-width="0.9" stroke-opacity="0.55"/>
<circle cx="693.0" cy="136.1" r="2.5" fill="#e0b070" opacity="0.8"/>
<ellipse cx="745.3" cy="133.7" rx="4.2" ry="3.9" transform="rotate(120 745.3 133.7)" fill="#c78746" stroke="#7a4414" stroke-width="0.9" stroke-opacity="0.55"/>
<circle cx="744.6" cy="132.9" r="2.4" fill="#e0b070" opacity="0.8"/>
<ellipse cx="736.5" cy="124.7" rx="5.0" ry="4.2" transform="rotate(170 736.5 124.7)" fill="#cd904b" stroke="#7a4414" stroke-width="0.9" stroke-opacity="0.55"/>
<circle cx="735.8" cy="123.9" r="2.8" fill="#e0b070" opacity="0.8"/>
<ellipse cx="753.8" cy="105.0" rx="4.8" ry="4.2" transform="rotate(5 753.8 105.0)" fill="#d49a54" stroke="#7a4414" stroke-width="0.9" stroke-opacity="0.55"/>
<circle cx="753.1" cy="104.2" r="2.8" fill="#e0b070" opacity="0.8"/>
<ellipse cx="773.6" cy="123.4" rx="4.6" ry="4.3" transform="rotate(177 773.6 123.4)" fill="#d0954f" stroke="#7a4414" stroke-width="0.9" stroke-opacity="0.55"/>
<circle cx="772.9" cy="122.6" r="2.5" fill="#e0b070" opacity="0.8"/>
<ellipse cx="685.7" cy="129.5" rx="4.6" ry="3.8" transform="rotate(44 685.7 129.5)" fill="#c48341" stroke="#7a4414" stroke-width="0.9" stroke-opacity="0.55"/>
<circle cx="685.0" cy="128.7" r="2.5" fill="#e0b070" opacity="0.8"/>
<ellipse cx="687.6" cy="118.5" rx="4.4" ry="4.7" transform="rotate(28 687.6 118.5)" fill="#c48341" stroke="#7a4414" stroke-width="0.9" stroke-opacity="0.55"/>
<circle cx="686.9" cy="117.7" r="2.7" fill="#e0b070" opacity="0.8"/>
<ellipse cx="729.3" cy="172.5" rx="5.2" ry="4.7" transform="rotate(46 729.3 172.5)" fill="#d9a15c" stroke="#7a4414" stroke-width="0.9" stroke-opacity="0.55"/>
<circle cx="728.6" cy="171.7" r="2.8" fill="#e0b070" opacity="0.8"/>
<ellipse cx="772.1" cy="155.7" rx="5.1" ry="4.8" transform="rotate(129 772.1 155.7)" fill="#c78746" stroke="#7a4414" stroke-width="0.9" stroke-opacity="0.55"/>
<circle cx="771.4" cy="154.9" r="2.8" fill="#e0b070" opacity="0.8"/>
<ellipse cx="713.0" cy="110.5" rx="4.5" ry="4.8" transform="rotate(126 713.0 110.5)" fill="#d9a15c" stroke="#7a4414" stroke-width="0.9" stroke-opacity="0.55"/>
<circle cx="712.3" cy="109.7" r="2.8" fill="#e0b070" opacity="0.8"/>
<ellipse cx="739.0" cy="146.0" rx="3.5" ry="3.6" transform="rotate(55 739.0 146.0)" fill="#d9a15c" stroke="#7a4414" stroke-width="0.9" stroke-opacity="0.55"/>
<circle cx="738.3" cy="145.2" r="2.3" fill="#e0b070" opacity="0.8"/>
<ellipse cx="742.9" cy="163.6" rx="5.1" ry="4.8" transform="rotate(152 742.9 163.6)" fill="#d49a54" stroke="#7a4414" stroke-width="0.9" stroke-opacity="0.55"/>
<circle cx="742.2" cy="162.8" r="2.7" fill="#e0b070" opacity="0.8"/>
<ellipse cx="779.0" cy="144.5" rx="4.7" ry="4.7" transform="rotate(133 779.0 144.5)" fill="#d9a15c" stroke="#7a4414" stroke-width="0.9" stroke-opacity="0.55"/>
<circle cx="778.3" cy="143.7" r="2.8" fill="#e0b070" opacity="0.8"/>
<ellipse cx="720.4" cy="159.6" rx="4.2" ry="4.0" transform="rotate(17 720.4 159.6)" fill="#d49a54" stroke="#7a4414" stroke-width="0.9" stroke-opacity="0.55"/>
<circle cx="719.7" cy="158.8" r="2.3" fill="#e0b070" opacity="0.8"/>
<ellipse cx="754.3" cy="160.3" rx="3.9" ry="4.1" transform="rotate(98 754.3 160.3)" fill="#c48341" stroke="#7a4414" stroke-width="0.9" stroke-opacity="0.55"/>
<circle cx="753.6" cy="159.5" r="2.5" fill="#e0b070" opacity="0.8"/>
<ellipse cx="697.0" cy="158.3" rx="5.0" ry="4.6" transform="rotate(51 697.0 158.3)" fill="#d0954f" stroke="#7a4414" stroke-width="0.9" stroke-opacity="0.55"/>
<circle cx="696.3" cy="157.5" r="2.8" fill="#e0b070" opacity="0.8"/>
<ellipse cx="753.2" cy="122.0" rx="4.7" ry="3.8" transform="rotate(89 753.2 122.0)" fill="#cd904b" stroke="#7a4414" stroke-width="0.9" stroke-opacity="0.55"/>
<circle cx="752.5" cy="121.2" r="2.5" fill="#e0b070" opacity="0.8"/>
<ellipse cx="729.4" cy="126.4" rx="4.1" ry="3.6" transform="rotate(84 729.4 126.4)" fill="#d49a54" stroke="#7a4414" stroke-width="0.9" stroke-opacity="0.55"/>
<circle cx="728.7" cy="125.6" r="2.3" fill="#e0b070" opacity="0.8"/>
<ellipse cx="733.9" cy="106.3" rx="4.0" ry="3.9" transform="rotate(137 733.9 106.3)" fill="#d9a15c" stroke="#7a4414" stroke-width="0.9" stroke-opacity="0.55"/>
<circle cx="733.2" cy="105.5" r="2.4" fill="#e0b070" opacity="0.8"/>
<ellipse cx="763.6" cy="115.9" rx="4.3" ry="3.7" transform="rotate(101 763.6 115.9)" fill="#d49a54" stroke="#7a4414" stroke-width="0.9" stroke-opacity="0.55"/>
<circle cx="762.9" cy="115.1" r="2.3" fill="#e0b070" opacity="0.8"/>
<ellipse cx="780.4" cy="126.7" rx="4.4" ry="4.4" transform="rotate(64 780.4 126.7)" fill="#d49a54" stroke="#7a4414" stroke-width="0.9" stroke-opacity="0.55"/>
<circle cx="779.7" cy="125.9" r="2.5" fill="#e0b070" opacity="0.8"/>
<ellipse cx="743.8" cy="108.7" rx="4.9" ry="4.9" transform="rotate(12 743.8 108.7)" fill="#d0954f" stroke="#7a4414" stroke-width="0.9" stroke-opacity="0.55"/>
<circle cx="743.1" cy="107.9" r="2.6" fill="#e0b070" opacity="0.8"/>
<ellipse cx="749.0" cy="115.2" rx="5.0" ry="4.4" transform="rotate(109 749.0 115.2)" fill="#c48341" stroke="#7a4414" stroke-width="0.9" stroke-opacity="0.55"/>
<circle cx="748.3" cy="114.4" r="2.8" fill="#e0b070" opacity="0.8"/>
<ellipse cx="699.2" cy="118.5" rx="4.3" ry="4.3" transform="rotate(86 699.2 118.5)" fill="#c48341" stroke="#7a4414" stroke-width="0.9" stroke-opacity="0.55"/>
<circle cx="698.5" cy="117.7" r="2.7" fill="#e0b070" opacity="0.8"/>
<ellipse cx="746.2" cy="125.5" rx="4.2" ry="4.3" transform="rotate(99 746.2 125.5)" fill="#c48341" stroke="#7a4414" stroke-width="0.9" stroke-opacity="0.55"/>
<circle cx="745.5" cy="124.7" r="2.7" fill="#e0b070" opacity="0.8"/>
<ellipse cx="740.2" cy="154.0" rx="4.2" ry="4.6" transform="rotate(14 740.2 154.0)" fill="#d9a15c" stroke="#7a4414" stroke-width="0.9" stroke-opacity="0.55"/>
<circle cx="739.5" cy="153.2" r="2.6" fill="#e0b070" opacity="0.8"/>
<ellipse cx="699.8" cy="147.8" rx="3.9" ry="4.6" transform="rotate(6 699.8 147.8)" fill="#d0954f" stroke="#7a4414" stroke-width="0.9" stroke-opacity="0.55"/>
<circle cx="699.1" cy="147.0" r="2.5" fill="#e0b070" opacity="0.8"/>
<ellipse cx="723.0" cy="150.3" rx="5.2" ry="4.2" transform="rotate(80 723.0 150.3)" fill="#c78746" stroke="#7a4414" stroke-width="0.9" stroke-opacity="0.55"/>
<circle cx="722.3" cy="149.5" r="2.8" fill="#e0b070" opacity="0.8"/>
<ellipse cx="757.9" cy="167.1" rx="4.2" ry="3.7" transform="rotate(147 757.9 167.1)" fill="#d9a15c" stroke="#7a4414" stroke-width="0.9" stroke-opacity="0.55"/>
<circle cx="757.2" cy="166.3" r="2.4" fill="#e0b070" opacity="0.8"/>
<ellipse cx="768.0" cy="149.4" rx="5.0" ry="5.3" transform="rotate(170 768.0 149.4)" fill="#cd904b" stroke="#7a4414" stroke-width="0.9" stroke-opacity="0.55"/>
<circle cx="767.3" cy="148.6" r="2.8" fill="#e0b070" opacity="0.8"/>
<ellipse cx="688.5" cy="143.6" rx="3.9" ry="4.2" transform="rotate(70 688.5 143.6)" fill="#d0954f" stroke="#7a4414" stroke-width="0.9" stroke-opacity="0.55"/>
<circle cx="687.8" cy="142.8" r="2.4" fill="#e0b070" opacity="0.8"/>
<ellipse cx="741.8" cy="175.3" rx="3.9" ry="4.5" transform="rotate(58 741.8 175.3)" fill="#c78746" stroke="#7a4414" stroke-width="0.9" stroke-opacity="0.55"/>
<circle cx="741.1" cy="174.5" r="2.5" fill="#e0b070" opacity="0.8"/>
<ellipse cx="704.7" cy="161.7" rx="4.4" ry="4.5" transform="rotate(113 704.7 161.7)" fill="#c78746" stroke="#7a4414" stroke-width="0.9" stroke-opacity="0.55"/>
<circle cx="704.0" cy="160.9" r="2.5" fill="#e0b070" opacity="0.8"/>
<ellipse cx="714.6" cy="151.0" rx="4.1" ry="4.2" transform="rotate(124 714.6 151.0)" fill="#d49a54" stroke="#7a4414" stroke-width="0.9" stroke-opacity="0.55"/>
<circle cx="713.9" cy="150.2" r="2.5" fill="#e0b070" opacity="0.8"/>
<ellipse cx="740.8" cy="115.2" rx="4.2" ry="4.3" transform="rotate(14 740.8 115.2)" fill="#c78746" stroke="#7a4414" stroke-width="0.9" stroke-opacity="0.55"/>
<circle cx="740.1" cy="114.4" r="2.4" fill="#e0b070" opacity="0.8"/>
<ellipse cx="774.7" cy="106.3" rx="5.0" ry="4.7" transform="rotate(44 774.7 106.3)" fill="#cd904b" stroke="#7a4414" stroke-width="0.9" stroke-opacity="0.55"/>
<circle cx="774.0" cy="105.5" r="2.7" fill="#e0b070" opacity="0.8"/>
<ellipse cx="766.0" cy="128.7" rx="4.2" ry="3.7" transform="rotate(146 766.0 128.7)" fill="#d49a54" stroke="#7a4414" stroke-width="0.9" stroke-opacity="0.55"/>
<circle cx="765.3" cy="127.9" r="2.5" fill="#e0b070" opacity="0.8"/>
<ellipse cx="708.1" cy="139.7" rx="5.3" ry="5.0" transform="rotate(134 708.1 139.7)" fill="#d49a54" stroke="#7a4414" stroke-width="0.9" stroke-opacity="0.55"/>
<circle cx="707.4" cy="138.9" r="2.8" fill="#e0b070" opacity="0.8"/>
<ellipse cx="717.4" cy="170.6" rx="4.3" ry="4.3" transform="rotate(70 717.4 170.6)" fill="#d49a54" stroke="#7a4414" stroke-width="0.9" stroke-opacity="0.55"/>
<circle cx="716.7" cy="169.8" r="2.5" fill="#e0b070" opacity="0.8"/>
<ellipse cx="721.7" cy="114.1" rx="3.8" ry="4.4" transform="rotate(23 721.7 114.1)" fill="#d0954f" stroke="#7a4414" stroke-width="0.9" stroke-opacity="0.55"/>
<circle cx="721.0" cy="113.3" r="2.3" fill="#e0b070" opacity="0.8"/>
<ellipse cx="710.2" cy="169.6" rx="4.7" ry="4.3" transform="rotate(124 710.2 169.6)" fill="#d49a54" stroke="#7a4414" stroke-width="0.9" stroke-opacity="0.55"/>
<circle cx="709.5" cy="168.8" r="2.7" fill="#e0b070" opacity="0.8"/>
<ellipse cx="705.1" cy="106.6" rx="4.9" ry="4.6" transform="rotate(156 705.1 106.6)" fill="#c48341" stroke="#7a4414" stroke-width="0.9" stroke-opacity="0.55"/>
<circle cx="704.4" cy="105.8" r="2.7" fill="#e0b070" opacity="0.8"/>
<ellipse cx="746.8" cy="157.0" rx="3.8" ry="4.5" transform="rotate(80 746.8 157.0)" fill="#d49a54" stroke="#7a4414" stroke-width="0.9" stroke-opacity="0.55"/>
<circle cx="746.1" cy="156.2" r="2.6" fill="#e0b070" opacity="0.8"/>
<ellipse cx="726.0" cy="108.1" rx="4.5" ry="4.4" transform="rotate(102 726.0 108.1)" fill="#d9a15c" stroke="#7a4414" stroke-width="0.9" stroke-opacity="0.55"/>
<circle cx="725.3" cy="107.3" r="2.5" fill="#e0b070" opacity="0.8"/>
<ellipse cx="755.6" cy="151.9" rx="4.9" ry="5.2" transform="rotate(101 755.6 151.9)" fill="#c78746" stroke="#7a4414" stroke-width="0.9" stroke-opacity="0.55"/>
<circle cx="754.9" cy="151.1" r="2.8" fill="#e0b070" opacity="0.8"/>
<ellipse cx="709.3" cy="122.6" rx="4.0" ry="4.3" transform="rotate(15 709.3 122.6)" fill="#d0954f" stroke="#7a4414" stroke-width="0.9" stroke-opacity="0.55"/>
<circle cx="708.6" cy="121.8" r="2.6" fill="#e0b070" opacity="0.8"/>
<ellipse cx="692.6" cy="149.9" rx="4.3" ry="3.6" transform="rotate(97 692.6 149.9)" fill="#c78746" stroke="#7a4414" stroke-width="0.9" stroke-opacity="0.55"/>
<circle cx="691.9" cy="149.1" r="2.3" fill="#e0b070" opacity="0.8"/>
<ellipse cx="721.2" cy="135.3" rx="4.9" ry="4.2" transform="rotate(55 721.2 135.3)" fill="#c78746" stroke="#7a4414" stroke-width="0.9" stroke-opacity="0.55"/>
<circle cx="720.5" cy="134.5" r="2.6" fill="#e0b070" opacity="0.8"/>
<ellipse cx="723.9" cy="121.6" rx="5.2" ry="4.6" transform="rotate(9 723.9 121.6)" fill="#c48341" stroke="#7a4414" stroke-width="0.9" stroke-opacity="0.55"/>
<circle cx="723.2" cy="120.8" r="2.8" fill="#e0b070" opacity="0.8"/>
<ellipse cx="737.0" cy="131.9" rx="4.6" ry="5.2" transform="rotate(90 737.0 131.9)" fill="#d9a15c" stroke="#7a4414" stroke-width="0.9" stroke-opacity="0.55"/>
<circle cx="736.3" cy="131.1" r="2.8" fill="#e0b070" opacity="0.8"/>
<ellipse cx="765.0" cy="163.8" rx="3.9" ry="3.8" transform="rotate(146 765.0 163.8)" fill="#d0954f" stroke="#7a4414" stroke-width="0.9" stroke-opacity="0.55"/>
<circle cx="764.3" cy="163.0" r="2.4" fill="#e0b070" opacity="0.8"/>
<ellipse cx="713.2" cy="133.4" rx="4.6" ry="4.4" transform="rotate(119 713.2 133.4)" fill="#d49a54" stroke="#7a4414" stroke-width="0.9" stroke-opacity="0.55"/>
<circle cx="712.5" cy="132.6" r="2.6" fill="#e0b070" opacity="0.8"/>
<ellipse cx="764.5" cy="135.8" rx="4.4" ry="4.4" transform="rotate(126 764.5 135.8)" fill="#cd904b" stroke="#7a4414" stroke-width="0.9" stroke-opacity="0.55"/>
<circle cx="763.8" cy="135.0" r="2.4" fill="#e0b070" opacity="0.8"/>
<ellipse cx="691.3" cy="124.9" rx="4.3" ry="4.6" transform="rotate(138 691.3 124.9)" fill="#c78746" stroke="#7a4414" stroke-width="0.9" stroke-opacity="0.55"/>
<circle cx="690.6" cy="124.1" r="2.6" fill="#e0b070" opacity="0.8"/>
<ellipse cx="760.7" cy="122.8" rx="4.1" ry="4.0" transform="rotate(138 760.7 122.8)" fill="#d49a54" stroke="#7a4414" stroke-width="0.9" stroke-opacity="0.55"/>
<circle cx="760.0" cy="122.0" r="2.6" fill="#e0b070" opacity="0.8"/>
<ellipse cx="745.9" cy="141.3" rx="4.2" ry="4.2" transform="rotate(98 745.9 141.3)" fill="#cd904b" stroke="#7a4414" stroke-width="0.9" stroke-opacity="0.55"/>
<circle cx="745.2" cy="140.5" r="2.5" fill="#e0b070" opacity="0.8"/>
<ellipse cx="736.1" cy="159.9" rx="4.4" ry="4.1" transform="rotate(163 736.1 159.9)" fill="#cd904b" stroke="#7a4414" stroke-width="0.9" stroke-opacity="0.55"/>
<circle cx="735.4" cy="159.1" r="2.4" fill="#e0b070" opacity="0.8"/>
<ellipse cx="730.8" cy="146.0" rx="4.4" ry="4.2" transform="rotate(176 730.8 146.0)" fill="#c48341" stroke="#7a4414" stroke-width="0.9" stroke-opacity="0.55"/>
<circle cx="730.1" cy="145.2" r="2.7" fill="#e0b070" opacity="0.8"/>
<ellipse cx="703.0" cy="154.4" rx="4.1" ry="4.5" transform="rotate(25 703.0 154.4)" fill="#cd904b" stroke="#7a4414" stroke-width="0.9" stroke-opacity="0.55"/>
<circle cx="702.3" cy="153.6" r="2.5" fill="#e0b070" opacity="0.8"/>
<ellipse cx="724.0" cy="167.3" rx="4.1" ry="3.8" transform="rotate(148 724.0 167.3)" fill="#d49a54" stroke="#7a4414" stroke-width="0.9" stroke-opacity="0.55"/>
<circle cx="723.3" cy="166.5" r="2.4" fill="#e0b070" opacity="0.8"/>
<ellipse cx="698.9" cy="111.3" rx="5.0" ry="4.3" transform="rotate(92 698.9 111.3)" fill="#d9a15c" stroke="#7a4414" stroke-width="0.9" stroke-opacity="0.55"/>
<circle cx="698.2" cy="110.5" r="2.8" fill="#e0b070" opacity="0.8"/>
</g>
</g>
<text x="50.71" y="191.20" font-size="36.19" font-weight="bold" fill="#ee55a7" textLength="148.37" lengthAdjust="spacingAndGlyphs" stroke="#ee55a7" stroke-width="1.6" stroke-linejoin="round">WET IS</text>
<text x="49.57" y="227.95" font-size="36.56" font-weight="bold" fill="#ee55a7" textLength="117.48" lengthAdjust="spacingAndGlyphs" stroke="#ee55a7" stroke-width="1.6" stroke-linejoin="round">BEST,</text>
<text x="49.28" y="263.70" font-size="36.19" font-weight="bold" fill="#ee55a7" textLength="189.11" lengthAdjust="spacingAndGlyphs" stroke="#ee55a7" stroke-width="1.6" stroke-linejoin="round">MIXED IS</text>
<text x="49.40" y="300.45" font-size="35.83" font-weight="bold" fill="#ee55a7" textLength="121.35" lengthAdjust="spacingAndGlyphs" stroke="#ee55a7" stroke-width="1.6" stroke-linejoin="round">NEXT.</text>
<text x="305.89" y="245.65" font-size="20.35" font-weight="bold" fill="#454142" textLength="68.48" lengthAdjust="spacingAndGlyphs" stroke="#454142" stroke-width="1.3" stroke-linejoin="round">PREY</text>
<text x="312.81" y="267.85" font-size="20.20" font-weight="bold" fill="#454142" textLength="60.82" lengthAdjust="spacingAndGlyphs" stroke="#454142" stroke-width="1.3" stroke-linejoin="round">DIET</text>
<text x="460.41" y="245.65" font-size="20.35" font-weight="bold" fill="#fff" textLength="49.47" lengthAdjust="spacingAndGlyphs" stroke="#fff" stroke-width="1.3" stroke-linejoin="round">ALL</text>
<text x="452.73" y="267.85" font-size="20.20" font-weight="bold" fill="#fff" textLength="57.14" lengthAdjust="spacingAndGlyphs" stroke="#fff" stroke-width="1.3" stroke-linejoin="round">WET</text>
<text x="561.47" y="245.65" font-size="20.35" font-weight="bold" fill="#fff" textLength="86.61" lengthAdjust="spacingAndGlyphs" stroke="#fff" stroke-width="1.3" stroke-linejoin="round">MIXED</text>
<text x="578.40" y="267.85" font-size="20.20" font-weight="bold" fill="#fff" textLength="69.56" lengthAdjust="spacingAndGlyphs" stroke="#fff" stroke-width="1.3" stroke-linejoin="round">FEED</text>
<text x="713.22" y="245.65" font-size="20.35" font-weight="bold" fill="#fff" textLength="49.38" lengthAdjust="spacingAndGlyphs" stroke="#fff" stroke-width="1.3" stroke-linejoin="round">ALL</text>
<text x="708.37" y="267.85" font-size="20.20" font-weight="bold" fill="#fff" textLength="54.68" lengthAdjust="spacingAndGlyphs" stroke="#fff" stroke-width="1.3" stroke-linejoin="round">DRY</text>
<text x="68.32" y="359.95" font-size="31.83" font-weight="bold" fill="#fff" textLength="130.07" lengthAdjust="spacingAndGlyphs" stroke="#fff" stroke-width="1.3" stroke-linejoin="round">PROTEINS</text>
<text x="68.96" y="432.35" font-size="32.12" font-weight="bold" fill="#fff" textLength="61.05" lengthAdjust="spacingAndGlyphs" stroke="#fff" stroke-width="1.3" stroke-linejoin="round">FATS</text>
<text x="68.95" y="501.55" font-size="31.83" font-weight="bold" fill="#fff" textLength="86.22" lengthAdjust="spacingAndGlyphs" stroke="#fff" stroke-width="1.3" stroke-linejoin="round">CARBS</text>
<text x="68.17" y="531.75" font-size="31.83" font-weight="bold" fill="#fff" textLength="105.27" lengthAdjust="spacingAndGlyphs" stroke="#fff" stroke-width="1.3" stroke-linejoin="round">&amp; FIBER</text>
<text x="68.85" y="603.85" font-size="31.83" font-weight="bold" fill="#fff" textLength="84.96" lengthAdjust="spacingAndGlyphs" stroke="#fff" stroke-width="1.3" stroke-linejoin="round">WATER</text>
<text x="65.59" y="644.90" font-size="15.26" font-weight="normal" fill="#fff" textLength="165.01" lengthAdjust="spacingAndGlyphs" stroke="#fff" stroke-width="0.2" stroke-linejoin="round">DAILY CONSUMPTION IN GRAMS</text>
<text x="315.74" y="360.15" font-size="41.14" font-weight="bold" fill="#454142" textLength="54.55" lengthAdjust="spacingAndGlyphs" stroke="#454142" stroke-width="1.7" stroke-linejoin="round">24g</text>
<text x="461.14" y="360.15" font-size="41.14" font-weight="bold" fill="#fff" textLength="51.68" lengthAdjust="spacingAndGlyphs" stroke="#fff" stroke-width="1.7" stroke-linejoin="round">29g</text>
<text x="600.09" y="360.15" font-size="41.14" font-weight="bold" fill="#fff" textLength="48.91" lengthAdjust="spacingAndGlyphs" stroke="#fff" stroke-width="1.7" stroke-linejoin="round">27g</text>
<text x="719.42" y="360.15" font-size="41.14" font-weight="bold" fill="#fff" textLength="45.88" lengthAdjust="spacingAndGlyphs" stroke="#fff" stroke-width="1.7" stroke-linejoin="round">18g</text>
<text x="331.95" y="431.15" font-size="41.00" font-weight="bold" fill="#454142" textLength="38.32" lengthAdjust="spacingAndGlyphs" stroke="#454142" stroke-width="1.7" stroke-linejoin="round">6g</text>
<text x="476.74" y="431.15" font-size="41.00" font-weight="bold" fill="#fff" textLength="35.70" lengthAdjust="spacingAndGlyphs" stroke="#fff" stroke-width="1.7" stroke-linejoin="round">5g</text>
<text x="613.19" y="431.15" font-size="41.00" font-weight="bold" fill="#fff" textLength="35.47" lengthAdjust="spacingAndGlyphs" stroke="#fff" stroke-width="1.7" stroke-linejoin="round">3g</text>
<text x="730.25" y="431.15" font-size="41.00" font-weight="bold" fill="#fff" textLength="35.31" lengthAdjust="spacingAndGlyphs" stroke="#fff" stroke-width="1.7" stroke-linejoin="round">5g</text>
<text x="332.65" y="518.65" font-size="41.14" font-weight="bold" fill="#454142" textLength="37.60" lengthAdjust="spacingAndGlyphs" stroke="#454142" stroke-width="1.7" stroke-linejoin="round">3g</text>
<text x="476.75" y="518.65" font-size="41.14" font-weight="bold" fill="#fff" textLength="35.54" lengthAdjust="spacingAndGlyphs" stroke="#fff" stroke-width="1.7" stroke-linejoin="round">5g</text>
<text x="600.12" y="518.65" font-size="41.14" font-weight="bold" fill="#fff" textLength="48.66" lengthAdjust="spacingAndGlyphs" stroke="#fff" stroke-width="1.7" stroke-linejoin="round">10g</text>
<text x="719.42" y="518.65" font-size="41.14" font-weight="bold" fill="#fff" textLength="45.88" lengthAdjust="spacingAndGlyphs" stroke="#fff" stroke-width="1.7" stroke-linejoin="round">19g</text>
<text x="302.93" y="606.15" font-size="41.14" font-weight="bold" fill="#454142" textLength="67.08" lengthAdjust="spacingAndGlyphs" stroke="#454142" stroke-width="1.7" stroke-linejoin="round">184g</text>
<text x="452.19" y="606.15" font-size="41.14" font-weight="bold" fill="#fff" textLength="59.76" lengthAdjust="spacingAndGlyphs" stroke="#fff" stroke-width="1.7" stroke-linejoin="round">197g</text>
<text x="587.39" y="606.15" font-size="41.14" font-weight="bold" fill="#fff" textLength="61.27" lengthAdjust="spacingAndGlyphs" stroke="#fff" stroke-width="1.7" stroke-linejoin="round">147g</text>
<text x="730.24" y="606.15" font-size="41.14" font-weight="bold" fill="#fff" textLength="35.32" lengthAdjust="spacingAndGlyphs" stroke="#fff" stroke-width="1.7" stroke-linejoin="round">5g</text>
<text x="231.34" y="716.95" font-size="20.78" font-weight="bold" fill="#463b40" textLength="340.60" lengthAdjust="spacingAndGlyphs" stroke="#463b40" stroke-width="1.3" stroke-linejoin="round">CATS FED AN EXCLUSIVELY WET DIET</text>
<text x="579.27" y="717.48" font-size="22.31" font-weight="normal" fill="#463b40" textLength="163.72" lengthAdjust="spacingAndGlyphs" stroke="#463b40" stroke-width="0.25" stroke-linejoin="round">TYPICALLY INGEST:</text>
<rect x="311.8" y="742" width="1.6" height="126" fill="#4f3f47"/>
<rect x="485.0" y="742" width="1.6" height="126" fill="#4f3f47"/>
<rect x="627.8000000000001" y="742" width="1.6" height="126" fill="#4f3f47"/>
<path fill="#4f3f47" stroke="#4f3f47" stroke-width="1.6" stroke-linejoin="round" d="M240.6,733.8 L251.2,746.2 L246.4,746.2 L246.4,762.7 L234.79999999999998,762.7 L234.79999999999998,746.2 L230.0,746.2 Z"/>
<path fill="#4f3f47" stroke="#4f3f47" stroke-width="1.6" stroke-linejoin="round" d="M396.6,733.8 L407.20000000000005,746.2 L402.40000000000003,746.2 L402.40000000000003,762.7 L390.8,762.7 L390.8,746.2 L386.0,746.2 Z"/>
<path fill="#4f3f47" stroke="#4f3f47" stroke-width="1.6" stroke-linejoin="round" d="M558.3,733.8 L568.9,746.2 L564.0999999999999,746.2 L564.0999999999999,762.7 L552.5,762.7 L552.5,746.2 L547.6999999999999,746.2 Z"/>
<path fill="#4f3f47" stroke="#4f3f47" stroke-width="1.6" stroke-linejoin="round" d="M701.5,762.8 L712.1,749.6 L707.3,749.6 L707.3,733.8 L695.7,733.8 L695.7,749.6 L690.9,749.6 Z"/>
<text x="212.25" y="795.30" font-size="29.07" font-weight="normal" fill="#58434c" textLength="58.17" lengthAdjust="spacingAndGlyphs" stroke="#58434c" stroke-width="0.6" stroke-linejoin="round">MORE</text>
<text x="184.89" y="832.00" font-size="42.88" font-weight="bold" fill="#58434c" textLength="117.39" lengthAdjust="spacingAndGlyphs" stroke="#58434c" stroke-width="2.0" stroke-linejoin="round">PROTEIN</text>
<text x="204.61" y="856.00" font-size="15.99" font-weight="normal" fill="#58434c" textLength="71.55" lengthAdjust="spacingAndGlyphs">(PER DAY)</text>
<text x="366.62" y="795.30" font-size="29.07" font-weight="normal" fill="#58434c" textLength="58.55" lengthAdjust="spacingAndGlyphs" stroke="#58434c" stroke-width="0.6" stroke-linejoin="round">MORE</text>
<text x="325.64" y="832.00" font-size="42.88" font-weight="bold" fill="#58434c" textLength="143.86" lengthAdjust="spacingAndGlyphs" stroke="#58434c" stroke-width="2.0" stroke-linejoin="round">MOISTURE</text>
<text x="359.61" y="856.00" font-size="15.99" font-weight="normal" fill="#58434c" textLength="70.62" lengthAdjust="spacingAndGlyphs">(PER DAY)</text>
<text x="530.16" y="795.30" font-size="29.07" font-weight="normal" fill="#58434c" textLength="56.72" lengthAdjust="spacingAndGlyphs" stroke="#58434c" stroke-width="0.6" stroke-linejoin="round">MORE</text>
<text x="500.06" y="832.00" font-size="42.88" font-weight="bold" fill="#58434c" textLength="117.98" lengthAdjust="spacingAndGlyphs" stroke="#58434c" stroke-width="2.0" stroke-linejoin="round">VARIETY</text>
<text x="521.37" y="856.00" font-size="15.99" font-weight="normal" fill="#58434c" textLength="71.71" lengthAdjust="spacingAndGlyphs">(PER DAY)</text>
<text x="677.47" y="795.30" font-size="29.07" font-weight="normal" fill="#58434c" textLength="47.42" lengthAdjust="spacingAndGlyphs" stroke="#58434c" stroke-width="0.6" stroke-linejoin="round">LESS</text>
<text x="656.25" y="832.00" font-size="42.88" font-weight="bold" fill="#58434c" textLength="93.09" lengthAdjust="spacingAndGlyphs" stroke="#58434c" stroke-width="2.0" stroke-linejoin="round">CARBS</text>
<text x="665.37" y="856.00" font-size="15.99" font-weight="normal" fill="#58434c" textLength="71.37" lengthAdjust="spacingAndGlyphs">(PER DAY)</text>
<text x="641.53" y="875.38" font-size="15.48" font-weight="normal" fill="#58434c" textLength="118.61" lengthAdjust="spacingAndGlyphs" stroke="#58434c" stroke-width="0.45" stroke-linejoin="round">(WASTED CALORIES)</text>
<g clip-path="url(#clipcat)">
<defs><clipPath id="clipcat"><rect x="8" y="640" width="300" height="264"/></clipPath></defs>
<path fill="#231f20" d="M156.9,655.6 C154.8,666 151.8,678 147.5,687.5 C146,691 144.5,694 142.5,696.5 L150,705 L170.8,697 C166.2,684 161,669.5 156.9,655.6 Z"/>
<path fill="#231f20" d="M0,731 C14,733 28,734 37.5,733.2 C52,732 64,730.5 75,727.5 C89,723.8 101,720.5 112.5,715.5 C120,712 128,708 135,703.7 C139,701 142,697.5 144.5,693.5 L147.5,688 L170.7,696.9 C175,700.5 178,704 180,707.5 C183.5,713 185.5,718 186.4,722.5 C187.6,727 188.2,731 188.2,735 C188.4,741 187.8,747 186.3,752.5 C184,762 180,770 175,777.5 C169,787 162,795.5 155,802.5 C147.5,810 139,815.5 130,820 C122,824 113,827 105,828.8 C105.5,836 107,843 108.8,850 C112.5,866 119,886 128.5,904 L88.4,904 C85.6,886 84,866 83.8,850 C83.7,843 84.3,836 85,830 C73,828.8 61,825.5 50,821.3 C41,818 33,814 25,810 C18.5,806.5 12.5,803 8,800 L0,795 Z"/>
<path fill="#77787b" d="M99.5,779 C100,771 102,763.5 105,757.5 C109,749.5 114,743 120,737.5 C126,732 133,726.5 140,722.5 C149,717.5 160,713.8 170.8,711.6 L171.6,715.6 C169.6,716.4 167.8,717.4 166.2,718.6 C166.8,726 166.6,733.5 165,740 C162,748.5 157,755 150,760 C143,766 134,770.5 125,773.8 C116,777 108,778.6 99.5,779 Z"/>
<path fill="#fddbb4" d="M105,775.2 C106,768 109,761 112.5,755 C117,747.5 123,741.2 130,736 C136,731.5 143,727.6 150,725 C154.5,723.4 159,722.3 162.8,722 C163.6,727 163.4,732.5 162,737.5 C159.6,744.8 154.5,751 147.5,756 C141,761 133.5,765.5 125,768.8 C118.5,771.5 112,773.8 105,775.2 Z"/>
<path fill="#231f20" d="M126.8,734.2 C124.6,741.5 127,750.5 131.9,757.2 C136.4,750 134.6,740.6 126.8,734.2 Z"/>
<circle cx="151.3" cy="729.4" r="3" fill="#fff"/>
<path fill="#77787b" d="M8,751.2 C13.5,750.2 19.5,749.8 25,750 C34,750.6 42.5,752.6 50,756 C59.5,760.2 68,766 75,772.5 C79.5,776.5 83.5,780.5 87.2,784.6 C83,786.6 79,787.8 75,788.8 C67,790.4 58.5,790.8 50,790 C41.5,789.2 33,787.4 25,785 C19,783 13,780 8,776.2 Z"/>
<path fill="#fddbb4" d="M8,757 C15,755.4 22.5,754.8 30,755.5 C39,756.6 47.5,760 55,765 C64,770.8 72,777 78.8,783.8 C78.5,784.3 78,784.7 77.5,785 C68.5,786.4 59,786.6 50,785.5 C41.5,784.3 33,782.4 25,779.5 C19,777.4 13,774.6 8,771 Z"/>
<path fill="#231f20" d="M39.2,756.2 C37.8,764 42,772.4 49.2,778.2 C52.2,770.4 48,761.6 39.2,756.2 Z"/>
<circle cx="11.4" cy="763" r="3" fill="#fff"/>
<path fill="#77787b" d="M85,791.6 C90.5,789.8 96.5,788.4 101.4,788 C102.6,788 103,788.8 102.5,789.8 C101,793.6 99,797.2 96.8,800.2 C96.2,800.9 95.4,800.8 94.8,800.2 C91.6,797.6 88,794.8 85,791.6 Z"/>
<path fill="#77787b" d="M96.2,800 C100,803.5 105,805.3 110,805.8 C119,806.6 128,806 135,803.6 C143.5,800.2 150,796 155,790 C159.5,785 163,780 165.4,774.8 C163.5,781 160,787 156,791.8 C150.5,798 144,803 135.6,806 C127.5,808.6 119,809 110,808 C104.5,807.2 99.5,804.5 96.2,800 Z"/>
<path fill="#77787b" d="M96.4,799.8 C95.6,803.4 94.4,806.4 92.5,808.8 C88,813.6 82,816.8 75,818.8 C67,820.8 58,821.2 50,820 C43,818.6 36,816 30,812.5 C25,809.4 20.6,806 17.2,802.2 C21,807 25.5,811 30.6,814.2 C36.5,818 43,820.8 50,822 C58.5,823.4 67.5,823 75.6,820.8 C83,818.6 89.5,815 93.6,810 C95.6,807 96.6,803.6 96.4,799.8 Z"/>
<path fill="#f7941d" d="M157.2,666.4 C155.6,676.5 153.4,687 151.3,696 L166,693 C162.8,684.5 159.6,675 157.2,666.4 Z"/>
</g>
</svg></body></html>
